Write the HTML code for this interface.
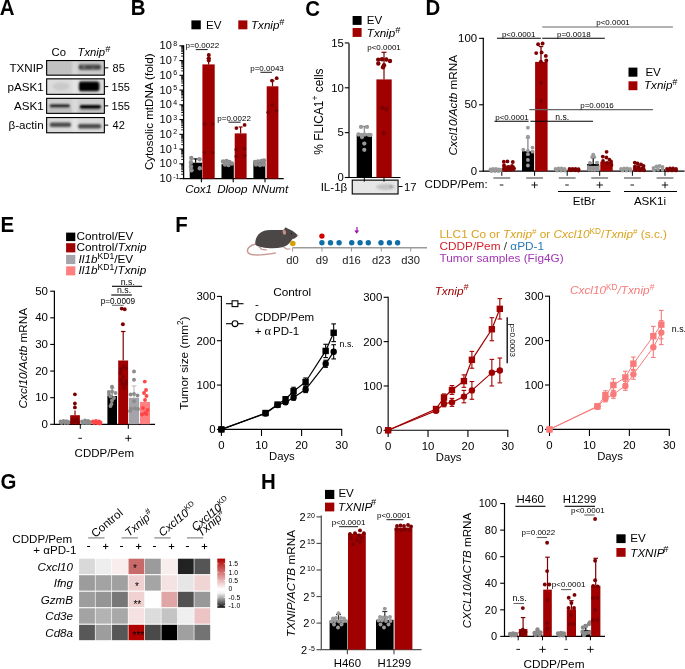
<!DOCTYPE html>
<html><head><meta charset="utf-8"><style>
html,body{margin:0;padding:0;background:#fff;}
svg{display:block;will-change:transform;}
text{font-family:"Liberation Sans", sans-serif;}
</style></head><body>
<svg width="685" height="669" viewBox="0 0 685 669">
<defs>
<filter id="blur1" x="-20%" y="-50%" width="140%" height="200%"><feGaussianBlur stdDeviation="0.9"/></filter>
<filter id="blur2" x="-20%" y="-50%" width="140%" height="200%"><feGaussianBlur stdDeviation="1.2"/></filter>
<linearGradient id="cbar" x1="0" y1="0" x2="0" y2="1">
<stop offset="0" stop-color="#b00000"/><stop offset="0.62" stop-color="#ffffff"/><stop offset="0.7" stop-color="#f4f4f4"/><stop offset="1" stop-color="#111111"/>
</linearGradient>
</defs>
<rect width="685" height="669" fill="#fff"/>
<text x="0" y="0" font-size="22" font-weight="bold" transform="translate(-0.30,15.40) scale(0.93,1)">A</text>
<text x="51.50" y="56.30" font-size="11.3" >Co</text>
<text x="77.50" y="56.30" font-size="11.3" font-style="italic" >Txnip<tspan font-size="9" dy="-4.3">#</tspan></text>
<rect x="46.10" y="60.00" width="58.80" height="15.70" fill="#c9c9c9" />
<text x="43.60" y="72.05" font-size="11.6" text-anchor="end" >TXNIP</text>
<line x1="104.90" y1="67.85" x2="108.30" y2="67.85" stroke="#000" stroke-width="1" />
<text x="112.60" y="71.85" font-size="11.0" >85</text>
<rect x="46.10" y="78.30" width="58.80" height="16.60" fill="#dcdcdc" />
<text x="43.60" y="90.80" font-size="11.6" text-anchor="end" >pASK1</text>
<line x1="104.90" y1="86.60" x2="108.30" y2="86.60" stroke="#000" stroke-width="1" />
<text x="111.60" y="90.60" font-size="11.0" >155</text>
<rect x="46.10" y="97.80" width="58.80" height="16.10" fill="#cfcfcf" />
<text x="43.60" y="110.05" font-size="11.6" text-anchor="end" >ASK1</text>
<line x1="104.90" y1="105.85" x2="108.30" y2="105.85" stroke="#000" stroke-width="1" />
<text x="111.60" y="109.85" font-size="11.0" >155</text>
<rect x="46.10" y="117.00" width="58.80" height="16.30" fill="#dadada" />
<text x="43.60" y="129.35" font-size="11.6" text-anchor="end" >β-actin</text>
<line x1="104.90" y1="125.15" x2="108.30" y2="125.15" stroke="#000" stroke-width="1" />
<text x="112.60" y="129.15" font-size="11.0" >42</text>
<g filter="url(#blur1)">
<rect x="72.50" y="61.00" width="5.00" height="13.70" fill="#ffffff" opacity="0.25"/>
<rect x="72.50" y="79.30" width="5.00" height="14.60" fill="#ffffff" opacity="0.25"/>
<rect x="72.50" y="98.80" width="5.00" height="14.10" fill="#ffffff" opacity="0.25"/>
<rect x="72.50" y="118.00" width="5.00" height="14.30" fill="#ffffff" opacity="0.25"/>
<rect x="47.00" y="61.00" width="25.00" height="14.00" fill="#bdbdbd" opacity="0.6"/>
<rect x="78.40" y="64.60" width="22.60" height="5.20" fill="#474747" rx="2"/>
<circle cx="84.00" cy="66.60" r="1.2" fill="#8a8a8a" />
<circle cx="93.00" cy="67.50" r="1.0" fill="#7a7a7a" />
<ellipse cx="61" cy="86.5" rx="9" ry="4" fill="#cacaca"/>
<rect x="78.60" y="81.40" width="20.80" height="9.80" fill="#000" rx="2.5"/>
<rect x="48.00" y="108.00" width="24.00" height="5.00" fill="#b9b9b9" opacity="0.7"/>
<rect x="78.00" y="109.00" width="25.00" height="4.00" fill="#bcbcbc" opacity="0.7"/>
<rect x="49.60" y="104.40" width="20.40" height="3.40" fill="#151515" rx="1.6"/>
<rect x="79.50" y="105.00" width="21.70" height="4.20" fill="#000" rx="2"/>
<rect x="49.70" y="122.50" width="21.50" height="4.60" fill="#4a4a4a" rx="2"/>
<rect x="77.80" y="124.00" width="23.40" height="4.60" fill="#4a4a4a" rx="2"/>
</g>
<rect x="46.65" y="60.55" width="57.70" height="14.60" fill="none" stroke="#000" stroke-width="1.1" />
<rect x="46.65" y="78.85" width="57.70" height="15.50" fill="none" stroke="#000" stroke-width="1.1" />
<rect x="46.65" y="98.35" width="57.70" height="15.00" fill="none" stroke="#000" stroke-width="1.1" />
<rect x="46.65" y="117.55" width="57.70" height="15.20" fill="none" stroke="#000" stroke-width="1.1" />
<text x="0" y="0" font-size="22" font-weight="bold" transform="translate(130.80,15.40) scale(0.93,1)">B</text>
<rect x="191.40" y="20.40" width="9.40" height="8.90" fill="#000" />
<text x="206.00" y="28.80" font-size="11.6" >EV</text>
<rect x="238.30" y="20.40" width="9.10" height="8.90" fill="#a00000" />
<text x="251.00" y="28.80" font-size="11.6" font-style="italic" >Txnip<tspan font-size="9" dy="-4.3">#</tspan></text>
<line x1="183.60" y1="45.30" x2="183.60" y2="178.60" stroke="#000" stroke-width="1.3" />
<line x1="179.40" y1="178.60" x2="183.60" y2="178.60" stroke="#000" stroke-width="1.1" />
<text x="171.80" y="182.20" font-size="11.0" text-anchor="end" >10</text>
<text x="173.20" y="178.70" font-size="7.0" >-1</text>
<line x1="181.20" y1="174.16" x2="183.60" y2="174.16" stroke="#000" stroke-width="0.9" />
<line x1="181.20" y1="171.56" x2="183.60" y2="171.56" stroke="#000" stroke-width="0.9" />
<line x1="181.20" y1="169.72" x2="183.60" y2="169.72" stroke="#000" stroke-width="0.9" />
<line x1="181.20" y1="168.29" x2="183.60" y2="168.29" stroke="#000" stroke-width="0.9" />
<line x1="181.20" y1="167.12" x2="183.60" y2="167.12" stroke="#000" stroke-width="0.9" />
<line x1="181.20" y1="166.13" x2="183.60" y2="166.13" stroke="#000" stroke-width="0.9" />
<line x1="181.20" y1="165.28" x2="183.60" y2="165.28" stroke="#000" stroke-width="0.9" />
<line x1="181.20" y1="164.52" x2="183.60" y2="164.52" stroke="#000" stroke-width="0.9" />
<line x1="179.40" y1="163.85" x2="183.60" y2="163.85" stroke="#000" stroke-width="1.1" />
<text x="171.80" y="167.45" font-size="11.0" text-anchor="end" >10</text>
<text x="173.20" y="163.95" font-size="7.0" >0</text>
<line x1="181.20" y1="159.41" x2="183.60" y2="159.41" stroke="#000" stroke-width="0.9" />
<line x1="181.20" y1="156.81" x2="183.60" y2="156.81" stroke="#000" stroke-width="0.9" />
<line x1="181.20" y1="154.96" x2="183.60" y2="154.96" stroke="#000" stroke-width="0.9" />
<line x1="181.20" y1="153.53" x2="183.60" y2="153.53" stroke="#000" stroke-width="0.9" />
<line x1="181.20" y1="152.37" x2="183.60" y2="152.37" stroke="#000" stroke-width="0.9" />
<line x1="181.20" y1="151.38" x2="183.60" y2="151.38" stroke="#000" stroke-width="0.9" />
<line x1="181.20" y1="150.52" x2="183.60" y2="150.52" stroke="#000" stroke-width="0.9" />
<line x1="181.20" y1="149.77" x2="183.60" y2="149.77" stroke="#000" stroke-width="0.9" />
<line x1="179.40" y1="149.09" x2="183.60" y2="149.09" stroke="#000" stroke-width="1.1" />
<text x="171.80" y="152.69" font-size="11.0" text-anchor="end" >10</text>
<text x="173.20" y="149.19" font-size="7.0" >1</text>
<line x1="181.20" y1="144.65" x2="183.60" y2="144.65" stroke="#000" stroke-width="0.9" />
<line x1="181.20" y1="142.05" x2="183.60" y2="142.05" stroke="#000" stroke-width="0.9" />
<line x1="181.20" y1="140.21" x2="183.60" y2="140.21" stroke="#000" stroke-width="0.9" />
<line x1="181.20" y1="138.78" x2="183.60" y2="138.78" stroke="#000" stroke-width="0.9" />
<line x1="181.20" y1="137.61" x2="183.60" y2="137.61" stroke="#000" stroke-width="0.9" />
<line x1="181.20" y1="136.62" x2="183.60" y2="136.62" stroke="#000" stroke-width="0.9" />
<line x1="181.20" y1="135.77" x2="183.60" y2="135.77" stroke="#000" stroke-width="0.9" />
<line x1="181.20" y1="135.01" x2="183.60" y2="135.01" stroke="#000" stroke-width="0.9" />
<line x1="179.40" y1="134.34" x2="183.60" y2="134.34" stroke="#000" stroke-width="1.1" />
<text x="171.80" y="137.94" font-size="11.0" text-anchor="end" >10</text>
<text x="173.20" y="134.44" font-size="7.0" >2</text>
<line x1="181.20" y1="129.89" x2="183.60" y2="129.89" stroke="#000" stroke-width="0.9" />
<line x1="181.20" y1="127.30" x2="183.60" y2="127.30" stroke="#000" stroke-width="0.9" />
<line x1="181.20" y1="125.45" x2="183.60" y2="125.45" stroke="#000" stroke-width="0.9" />
<line x1="181.20" y1="124.02" x2="183.60" y2="124.02" stroke="#000" stroke-width="0.9" />
<line x1="181.20" y1="122.85" x2="183.60" y2="122.85" stroke="#000" stroke-width="0.9" />
<line x1="181.20" y1="121.87" x2="183.60" y2="121.87" stroke="#000" stroke-width="0.9" />
<line x1="181.20" y1="121.01" x2="183.60" y2="121.01" stroke="#000" stroke-width="0.9" />
<line x1="181.20" y1="120.26" x2="183.60" y2="120.26" stroke="#000" stroke-width="0.9" />
<line x1="179.40" y1="119.58" x2="183.60" y2="119.58" stroke="#000" stroke-width="1.1" />
<text x="171.80" y="123.18" font-size="11.0" text-anchor="end" >10</text>
<text x="173.20" y="119.68" font-size="7.0" >3</text>
<line x1="181.20" y1="115.14" x2="183.60" y2="115.14" stroke="#000" stroke-width="0.9" />
<line x1="181.20" y1="112.54" x2="183.60" y2="112.54" stroke="#000" stroke-width="0.9" />
<line x1="181.20" y1="110.70" x2="183.60" y2="110.70" stroke="#000" stroke-width="0.9" />
<line x1="181.20" y1="109.27" x2="183.60" y2="109.27" stroke="#000" stroke-width="0.9" />
<line x1="181.20" y1="108.10" x2="183.60" y2="108.10" stroke="#000" stroke-width="0.9" />
<line x1="181.20" y1="107.11" x2="183.60" y2="107.11" stroke="#000" stroke-width="0.9" />
<line x1="181.20" y1="106.25" x2="183.60" y2="106.25" stroke="#000" stroke-width="0.9" />
<line x1="181.20" y1="105.50" x2="183.60" y2="105.50" stroke="#000" stroke-width="0.9" />
<line x1="179.40" y1="104.82" x2="183.60" y2="104.82" stroke="#000" stroke-width="1.1" />
<text x="171.80" y="108.42" font-size="11.0" text-anchor="end" >10</text>
<text x="173.20" y="104.92" font-size="7.0" >4</text>
<line x1="181.20" y1="100.38" x2="183.60" y2="100.38" stroke="#000" stroke-width="0.9" />
<line x1="181.20" y1="97.78" x2="183.60" y2="97.78" stroke="#000" stroke-width="0.9" />
<line x1="181.20" y1="95.94" x2="183.60" y2="95.94" stroke="#000" stroke-width="0.9" />
<line x1="181.20" y1="94.51" x2="183.60" y2="94.51" stroke="#000" stroke-width="0.9" />
<line x1="181.20" y1="93.34" x2="183.60" y2="93.34" stroke="#000" stroke-width="0.9" />
<line x1="181.20" y1="92.35" x2="183.60" y2="92.35" stroke="#000" stroke-width="0.9" />
<line x1="181.20" y1="91.50" x2="183.60" y2="91.50" stroke="#000" stroke-width="0.9" />
<line x1="181.20" y1="90.74" x2="183.60" y2="90.74" stroke="#000" stroke-width="0.9" />
<line x1="179.40" y1="90.07" x2="183.60" y2="90.07" stroke="#000" stroke-width="1.1" />
<text x="171.80" y="93.67" font-size="11.0" text-anchor="end" >10</text>
<text x="173.20" y="90.17" font-size="7.0" >5</text>
<line x1="181.20" y1="85.63" x2="183.60" y2="85.63" stroke="#000" stroke-width="0.9" />
<line x1="181.20" y1="83.03" x2="183.60" y2="83.03" stroke="#000" stroke-width="0.9" />
<line x1="181.20" y1="81.18" x2="183.60" y2="81.18" stroke="#000" stroke-width="0.9" />
<line x1="181.20" y1="79.75" x2="183.60" y2="79.75" stroke="#000" stroke-width="0.9" />
<line x1="181.20" y1="78.59" x2="183.60" y2="78.59" stroke="#000" stroke-width="0.9" />
<line x1="181.20" y1="77.60" x2="183.60" y2="77.60" stroke="#000" stroke-width="0.9" />
<line x1="181.20" y1="76.74" x2="183.60" y2="76.74" stroke="#000" stroke-width="0.9" />
<line x1="181.20" y1="75.99" x2="183.60" y2="75.99" stroke="#000" stroke-width="0.9" />
<line x1="179.40" y1="75.31" x2="183.60" y2="75.31" stroke="#000" stroke-width="1.1" />
<text x="171.80" y="78.91" font-size="11.0" text-anchor="end" >10</text>
<text x="173.20" y="75.41" font-size="7.0" >6</text>
<line x1="181.20" y1="70.87" x2="183.60" y2="70.87" stroke="#000" stroke-width="0.9" />
<line x1="181.20" y1="68.27" x2="183.60" y2="68.27" stroke="#000" stroke-width="0.9" />
<line x1="181.20" y1="66.43" x2="183.60" y2="66.43" stroke="#000" stroke-width="0.9" />
<line x1="181.20" y1="65.00" x2="183.60" y2="65.00" stroke="#000" stroke-width="0.9" />
<line x1="181.20" y1="63.83" x2="183.60" y2="63.83" stroke="#000" stroke-width="0.9" />
<line x1="181.20" y1="62.84" x2="183.60" y2="62.84" stroke="#000" stroke-width="0.9" />
<line x1="181.20" y1="61.99" x2="183.60" y2="61.99" stroke="#000" stroke-width="0.9" />
<line x1="181.20" y1="61.23" x2="183.60" y2="61.23" stroke="#000" stroke-width="0.9" />
<line x1="179.40" y1="60.56" x2="183.60" y2="60.56" stroke="#000" stroke-width="1.1" />
<text x="171.80" y="64.16" font-size="11.0" text-anchor="end" >10</text>
<text x="173.20" y="60.66" font-size="7.0" >7</text>
<line x1="181.20" y1="56.11" x2="183.60" y2="56.11" stroke="#000" stroke-width="0.9" />
<line x1="181.20" y1="53.52" x2="183.60" y2="53.52" stroke="#000" stroke-width="0.9" />
<line x1="181.20" y1="51.67" x2="183.60" y2="51.67" stroke="#000" stroke-width="0.9" />
<line x1="181.20" y1="50.24" x2="183.60" y2="50.24" stroke="#000" stroke-width="0.9" />
<line x1="181.20" y1="49.07" x2="183.60" y2="49.07" stroke="#000" stroke-width="0.9" />
<line x1="181.20" y1="48.09" x2="183.60" y2="48.09" stroke="#000" stroke-width="0.9" />
<line x1="181.20" y1="47.23" x2="183.60" y2="47.23" stroke="#000" stroke-width="0.9" />
<line x1="181.20" y1="46.48" x2="183.60" y2="46.48" stroke="#000" stroke-width="0.9" />
<line x1="179.40" y1="45.80" x2="183.60" y2="45.80" stroke="#000" stroke-width="1.1" />
<text x="171.80" y="49.40" font-size="11.0" text-anchor="end" >10</text>
<text x="173.20" y="45.90" font-size="7.0" >8</text>
<line x1="183.00" y1="178.60" x2="283.70" y2="178.60" stroke="#000" stroke-width="1.3" />
<line x1="201.40" y1="178.60" x2="201.40" y2="182.30" stroke="#000" stroke-width="1.1" />
<line x1="233.20" y1="178.60" x2="233.20" y2="182.30" stroke="#000" stroke-width="1.1" />
<line x1="265.00" y1="178.60" x2="265.00" y2="182.30" stroke="#000" stroke-width="1.1" />
<text x="198.60" y="193.20" font-size="11.5" text-anchor="middle" font-style="italic" >Cox1</text>
<text x="232.30" y="193.20" font-size="11.6" text-anchor="middle" font-style="italic" >Dloop</text>
<text x="270.20" y="193.20" font-size="11.6" text-anchor="middle" font-style="italic" >NNumt</text>
<text x="0" y="0" font-size="11.6" transform="translate(153.40,111.80) rotate(-90)" text-anchor="middle" >Cytosolic mtDNA (fold)</text>
<rect x="189.70" y="162.70" width="12.30" height="15.90" fill="#000" />
<line x1="195.60" y1="162.70" x2="195.60" y2="158.90" stroke="#000" stroke-width="1.2" />
<line x1="193.35" y1="158.90" x2="197.85" y2="158.90" stroke="#000" stroke-width="1.2" />
<circle cx="191.30" cy="157.90" r="2.2" fill="#8e8e8e" />
<circle cx="199.60" cy="159.30" r="2.2" fill="#8e8e8e" />
<circle cx="191.00" cy="162.20" r="2.2" fill="#8e8e8e" />
<circle cx="191.00" cy="166.50" r="2.2" fill="#8e8e8e" />
<circle cx="199.80" cy="168.30" r="2.2" fill="#8e8e8e" />
<circle cx="191.50" cy="170.20" r="2.2" fill="#8e8e8e" />
<rect x="202.40" y="64.40" width="12.30" height="114.20" fill="#a00000" />
<line x1="208.60" y1="64.40" x2="208.60" y2="58.50" stroke="#7d0000" stroke-width="1.2" />
<line x1="206.60" y1="58.50" x2="210.60" y2="58.50" stroke="#7d0000" stroke-width="1.2" />
<circle cx="208.80" cy="54.90" r="2.0" fill="#7d0000" />
<circle cx="208.80" cy="58.20" r="2.0" fill="#7d0000" />
<circle cx="208.80" cy="60.40" r="2.0" fill="#7d0000" />
<circle cx="204.60" cy="123.90" r="1.8" fill="#7d0000" />
<circle cx="212.60" cy="123.90" r="1.8" fill="#7d0000" />
<circle cx="204.60" cy="152.50" r="1.8" fill="#7d0000" />
<circle cx="212.60" cy="152.50" r="1.8" fill="#7d0000" />
<rect x="221.50" y="164.20" width="12.30" height="14.40" fill="#000" />
<circle cx="223.00" cy="161.50" r="2.2" fill="#8e8e8e" />
<circle cx="226.50" cy="161.00" r="2.2" fill="#8e8e8e" />
<circle cx="229.50" cy="162.00" r="2.2" fill="#8e8e8e" />
<circle cx="232.00" cy="163.50" r="2.2" fill="#8e8e8e" />
<circle cx="225.00" cy="164.50" r="2.2" fill="#8e8e8e" />
<circle cx="228.50" cy="165.00" r="2.2" fill="#8e8e8e" />
<rect x="234.70" y="133.40" width="11.90" height="45.20" fill="#a00000" />
<line x1="240.60" y1="133.40" x2="240.60" y2="127.00" stroke="#7d0000" stroke-width="1.2" />
<line x1="238.60" y1="127.00" x2="242.60" y2="127.00" stroke="#7d0000" stroke-width="1.2" />
<circle cx="236.40" cy="128.10" r="1.9" fill="#7d0000" />
<circle cx="244.60" cy="124.90" r="1.9" fill="#7d0000" />
<circle cx="236.40" cy="149.50" r="1.9" fill="#7d0000" />
<circle cx="244.40" cy="148.80" r="1.9" fill="#7d0000" />
<circle cx="236.40" cy="156.40" r="1.9" fill="#7d0000" />
<circle cx="244.40" cy="155.60" r="1.9" fill="#7d0000" />
<rect x="253.40" y="162.10" width="11.90" height="16.50" fill="#000" />
<circle cx="255.00" cy="162.00" r="2.2" fill="#8e8e8e" />
<circle cx="258.00" cy="161.50" r="2.2" fill="#8e8e8e" />
<circle cx="261.50" cy="161.00" r="2.2" fill="#8e8e8e" />
<circle cx="264.00" cy="160.50" r="2.2" fill="#8e8e8e" />
<circle cx="256.00" cy="164.50" r="2.2" fill="#8e8e8e" />
<circle cx="260.00" cy="165.00" r="2.2" fill="#8e8e8e" />
<circle cx="263.50" cy="164.50" r="2.2" fill="#8e8e8e" />
<rect x="266.70" y="86.30" width="11.70" height="92.30" fill="#a00000" />
<line x1="272.50" y1="86.30" x2="272.50" y2="80.80" stroke="#7d0000" stroke-width="1.2" />
<line x1="270.50" y1="80.80" x2="274.50" y2="80.80" stroke="#7d0000" stroke-width="1.2" />
<circle cx="272.00" cy="80.60" r="1.9" fill="#7d0000" />
<circle cx="276.70" cy="78.20" r="1.9" fill="#7d0000" />
<circle cx="268.30" cy="112.20" r="1.9" fill="#7d0000" />
<circle cx="272.20" cy="105.00" r="1.9" fill="#7d0000" />
<circle cx="276.40" cy="110.80" r="1.9" fill="#7d0000" />
<text x="185.50" y="48.10" font-size="8.0" >p=0.0022</text>
<line x1="195.80" y1="49.60" x2="207.70" y2="49.60" stroke="#000" stroke-width="0.9" />
<text x="217.30" y="120.70" font-size="8.0" >p=0.0022</text>
<line x1="228.50" y1="122.20" x2="240.60" y2="122.20" stroke="#000" stroke-width="0.9" />
<text x="250.20" y="70.80" font-size="8.0" >p=0.0043</text>
<line x1="260.40" y1="72.30" x2="272.00" y2="72.30" stroke="#000" stroke-width="0.9" />
<text x="0" y="0" font-size="22" font-weight="bold" transform="translate(305.30,15.60) scale(0.93,1)">C</text>
<rect x="352.60" y="16.00" width="9.00" height="8.90" fill="#000" />
<text x="366.80" y="24.20" font-size="11.6" >EV</text>
<rect x="352.60" y="28.00" width="9.00" height="8.90" fill="#a00000" />
<text x="366.80" y="37.20" font-size="11.6" font-style="italic" >Txnip<tspan font-size="9" dy="-4.3">#</tspan></text>
<line x1="349.00" y1="43.20" x2="349.00" y2="177.50" stroke="#000" stroke-width="1.2" />
<line x1="344.80" y1="177.50" x2="349.00" y2="177.50" stroke="#000" stroke-width="1.1" />
<text x="343.80" y="181.30" font-size="11.3" text-anchor="end" >0</text>
<line x1="344.80" y1="132.65" x2="349.00" y2="132.65" stroke="#000" stroke-width="1.1" />
<text x="343.80" y="136.45" font-size="11.3" text-anchor="end" >5</text>
<line x1="344.80" y1="87.80" x2="349.00" y2="87.80" stroke="#000" stroke-width="1.1" />
<text x="343.80" y="91.60" font-size="11.3" text-anchor="end" >10</text>
<line x1="344.80" y1="42.95" x2="349.00" y2="42.95" stroke="#000" stroke-width="1.1" />
<text x="343.80" y="46.75" font-size="11.3" text-anchor="end" >15</text>
<line x1="348.40" y1="177.50" x2="400.50" y2="177.50" stroke="#000" stroke-width="1.2" />
<text x="0" y="0" font-size="11.9" transform="translate(323.10,111.60) rotate(-90)" text-anchor="middle" >% FLICA1<tspan font-size="8.5" dy="-4.8">+</tspan><tspan dy="4.8"> cells</tspan></text>
<rect x="356.70" y="135.00" width="15.30" height="42.50" fill="#000" />
<line x1="364.30" y1="135.00" x2="364.30" y2="126.40" stroke="#888" stroke-width="1.2" />
<line x1="362.05" y1="126.40" x2="366.55" y2="126.40" stroke="#888" stroke-width="1.2" />
<circle cx="361.00" cy="126.90" r="2.15" fill="#9a9a9a" />
<circle cx="367.00" cy="126.90" r="2.15" fill="#9a9a9a" />
<circle cx="358.50" cy="134.50" r="2.15" fill="#9a9a9a" />
<circle cx="361.80" cy="134.80" r="2.15" fill="#9a9a9a" />
<circle cx="365.00" cy="134.60" r="2.15" fill="#9a9a9a" />
<circle cx="368.50" cy="134.80" r="2.15" fill="#9a9a9a" />
<circle cx="370.50" cy="135.00" r="2.15" fill="#9a9a9a" />
<circle cx="362.00" cy="137.00" r="2.15" fill="#9a9a9a" />
<circle cx="364.30" cy="143.60" r="2.15" fill="#9a9a9a" />
<circle cx="364.30" cy="149.80" r="2.15" fill="#9a9a9a" />
<rect x="376.40" y="79.40" width="15.30" height="98.10" fill="#a00000" />
<line x1="384.00" y1="79.40" x2="384.00" y2="52.30" stroke="#7d0000" stroke-width="1.2" />
<line x1="381.50" y1="52.30" x2="386.50" y2="52.30" stroke="#7d0000" stroke-width="1.2" />
<circle cx="378.20" cy="59.60" r="2.2" fill="#7d0000" />
<circle cx="382.00" cy="59.20" r="2.2" fill="#7d0000" />
<circle cx="386.30" cy="59.50" r="2.2" fill="#7d0000" />
<circle cx="390.00" cy="61.00" r="2.2" fill="#7d0000" />
<circle cx="378.30" cy="63.50" r="2.2" fill="#7d0000" />
<circle cx="384.00" cy="65.30" r="2.2" fill="#7d0000" />
<circle cx="383.00" cy="67.30" r="2.2" fill="#7d0000" />
<circle cx="382.30" cy="107.80" r="2.2" fill="#7d0000" />
<circle cx="386.30" cy="109.00" r="2.2" fill="#7d0000" />
<circle cx="383.80" cy="133.30" r="2.2" fill="#7d0000" />
<text x="367.20" y="50.30" font-size="8.0" >p&lt;0.0001</text>
<rect x="351.70" y="179.60" width="46.90" height="14.90" fill="#e6e6e6" />
<g filter="url(#blur2)">
<ellipse cx="385.5" cy="187" rx="9.5" ry="3" fill="#c2c2c2"/>
<ellipse cx="391" cy="186.5" rx="1.5" ry="1" fill="#777"/>
</g>
<rect x="352.25" y="180.15" width="45.80" height="13.80" fill="none" stroke="#000" stroke-width="1.1" />
<line x1="364.30" y1="177.50" x2="364.30" y2="181.60" stroke="#000" stroke-width="1.0" />
<line x1="384.00" y1="177.50" x2="384.00" y2="181.60" stroke="#000" stroke-width="1.0" />
<text x="347.30" y="191.20" font-size="11.6" text-anchor="end" >IL-1β</text>
<line x1="398.60" y1="186.50" x2="402.50" y2="186.50" stroke="#000" stroke-width="1" />
<text x="404.00" y="191.20" font-size="11.2" >17</text>
<text x="0" y="0" font-size="22" font-weight="bold" transform="translate(425.50,15.40) scale(0.93,1)">D</text>
<line x1="483.30" y1="37.80" x2="483.30" y2="171.20" stroke="#000" stroke-width="1.2" />
<line x1="479.10" y1="171.20" x2="483.30" y2="171.20" stroke="#000" stroke-width="1.1" />
<text x="477.10" y="174.80" font-size="11.4" text-anchor="end" >0</text>
<line x1="479.10" y1="104.77" x2="483.30" y2="104.77" stroke="#000" stroke-width="1.1" />
<text x="477.10" y="108.37" font-size="11.4" text-anchor="end" >50</text>
<line x1="479.10" y1="38.35" x2="483.30" y2="38.35" stroke="#000" stroke-width="1.1" />
<text x="477.10" y="41.95" font-size="11.4" text-anchor="end" >100</text>
<line x1="482.70" y1="171.20" x2="684.60" y2="171.20" stroke="#000" stroke-width="1.2" />
<line x1="501.80" y1="171.20" x2="501.80" y2="175.80" stroke="#000" stroke-width="1.0" />
<line x1="493.40" y1="178.00" x2="510.20" y2="178.00" stroke="#666" stroke-width="1.3" />
<line x1="499.80" y1="185.00" x2="503.40" y2="185.00" stroke="#000" stroke-width="0.9" />
<line x1="534.60" y1="171.20" x2="534.60" y2="175.80" stroke="#000" stroke-width="1.0" />
<line x1="526.20" y1="178.00" x2="543.00" y2="178.00" stroke="#666" stroke-width="1.3" />
<line x1="531.40" y1="185.00" x2="537.80" y2="185.00" stroke="#000" stroke-width="0.9" />
<line x1="534.60" y1="181.80" x2="534.60" y2="188.20" stroke="#000" stroke-width="0.9" />
<line x1="567.20" y1="171.20" x2="567.20" y2="175.80" stroke="#000" stroke-width="1.0" />
<line x1="558.80" y1="178.00" x2="575.60" y2="178.00" stroke="#666" stroke-width="1.3" />
<line x1="565.20" y1="185.00" x2="568.80" y2="185.00" stroke="#000" stroke-width="0.9" />
<line x1="599.70" y1="171.20" x2="599.70" y2="175.80" stroke="#000" stroke-width="1.0" />
<line x1="591.30" y1="178.00" x2="608.10" y2="178.00" stroke="#666" stroke-width="1.3" />
<line x1="596.50" y1="185.00" x2="602.90" y2="185.00" stroke="#000" stroke-width="0.9" />
<line x1="599.70" y1="181.80" x2="599.70" y2="188.20" stroke="#000" stroke-width="0.9" />
<line x1="632.40" y1="171.20" x2="632.40" y2="175.80" stroke="#000" stroke-width="1.0" />
<line x1="624.00" y1="178.00" x2="640.80" y2="178.00" stroke="#666" stroke-width="1.3" />
<line x1="630.40" y1="185.00" x2="634.00" y2="185.00" stroke="#000" stroke-width="0.9" />
<line x1="665.00" y1="171.20" x2="665.00" y2="175.80" stroke="#000" stroke-width="1.0" />
<line x1="656.60" y1="178.00" x2="673.40" y2="178.00" stroke="#666" stroke-width="1.3" />
<line x1="661.80" y1="185.00" x2="668.20" y2="185.00" stroke="#000" stroke-width="0.9" />
<line x1="665.00" y1="181.80" x2="665.00" y2="188.20" stroke="#000" stroke-width="0.9" />
<text x="424.60" y="187.90" font-size="11.6" >CDDP/Pem:</text>
<line x1="558.00" y1="191.50" x2="610.40" y2="191.50" stroke="#000" stroke-width="1.1" />
<line x1="624.00" y1="191.50" x2="677.00" y2="191.50" stroke="#000" stroke-width="1.1" />
<text x="584.00" y="205.00" font-size="11.6" text-anchor="middle" >EtBr</text>
<text x="650.00" y="205.00" font-size="11.6" text-anchor="middle" >ASK1i</text>
<text x="0" y="0" font-size="11.75" transform="translate(457.00,105.20) rotate(-90)" text-anchor="middle" ><tspan font-style="italic">Cxcl10/Actb</tspan> mRNA</text>
<rect x="489.30" y="169.87" width="12.50" height="1.33" fill="#000" />
<circle cx="490.50" cy="169.50" r="1.9" fill="#9a9a9a" />
<circle cx="493.00" cy="169.00" r="1.9" fill="#9a9a9a" />
<circle cx="496.00" cy="169.00" r="1.9" fill="#9a9a9a" />
<circle cx="499.00" cy="169.50" r="1.9" fill="#9a9a9a" />
<circle cx="501.00" cy="170.00" r="1.9" fill="#9a9a9a" />
<circle cx="491.50" cy="171.00" r="1.9" fill="#9a9a9a" />
<circle cx="495.00" cy="171.00" r="1.9" fill="#9a9a9a" />
<circle cx="498.50" cy="171.00" r="1.9" fill="#9a9a9a" />
<rect x="502.40" y="165.62" width="12.40" height="5.58" fill="#a00000" />
<circle cx="503.80" cy="161.70" r="1.9" fill="#7d0000" />
<circle cx="507.40" cy="161.40" r="1.9" fill="#7d0000" />
<circle cx="512.80" cy="162.00" r="1.9" fill="#7d0000" />
<circle cx="504.00" cy="165.20" r="1.9" fill="#7d0000" />
<circle cx="508.40" cy="167.00" r="1.9" fill="#7d0000" />
<circle cx="512.00" cy="166.00" r="1.9" fill="#7d0000" />
<circle cx="514.00" cy="168.40" r="1.9" fill="#7d0000" />
<circle cx="504.00" cy="168.80" r="1.9" fill="#7d0000" />
<circle cx="510.50" cy="169.50" r="1.9" fill="#7d0000" />
<circle cx="506.00" cy="170.00" r="1.9" fill="#7d0000" />
<rect x="522.00" y="151.20" width="12.10" height="20.00" fill="#000" />
<line x1="527.90" y1="151.20" x2="527.90" y2="137.90" stroke="#888" stroke-width="1.3" />
<line x1="525.65" y1="137.90" x2="530.15" y2="137.90" stroke="#888" stroke-width="1.3" />
<circle cx="527.90" cy="127.70" r="1.9" fill="#9a9a9a" />
<circle cx="527.90" cy="136.60" r="1.9" fill="#9a9a9a" />
<circle cx="523.30" cy="149.60" r="1.9" fill="#9a9a9a" />
<circle cx="532.50" cy="147.60" r="1.9" fill="#9a9a9a" />
<circle cx="532.50" cy="151.70" r="1.9" fill="#9a9a9a" />
<circle cx="527.90" cy="150.70" r="1.9" fill="#9a9a9a" />
<circle cx="527.90" cy="154.20" r="1.9" fill="#9a9a9a" />
<circle cx="527.90" cy="159.90" r="1.9" fill="#9a9a9a" />
<circle cx="527.90" cy="165.50" r="1.9" fill="#9a9a9a" />
<rect x="535.10" y="61.90" width="12.50" height="109.30" fill="#a00000" />
<line x1="541.00" y1="61.90" x2="541.00" y2="46.50" stroke="#7d0000" stroke-width="1.3" />
<line x1="538.75" y1="46.50" x2="543.25" y2="46.50" stroke="#7d0000" stroke-width="1.3" />
<circle cx="538.10" cy="44.20" r="1.95" fill="#7d0000" />
<circle cx="542.60" cy="43.50" r="1.95" fill="#7d0000" />
<circle cx="536.20" cy="53.10" r="1.95" fill="#7d0000" />
<circle cx="541.60" cy="52.40" r="1.95" fill="#7d0000" />
<circle cx="545.80" cy="55.90" r="1.95" fill="#7d0000" />
<circle cx="546.30" cy="60.50" r="1.95" fill="#7d0000" />
<circle cx="540.90" cy="61.70" r="1.95" fill="#7d0000" />
<circle cx="541.10" cy="82.70" r="1.95" fill="#7d0000" />
<circle cx="541.10" cy="101.00" r="1.95" fill="#7d0000" />
<rect x="554.70" y="170.00" width="12.50" height="1.20" fill="#000" />
<circle cx="555.50" cy="169.00" r="1.9" fill="#9a9a9a" />
<circle cx="558.50" cy="168.50" r="1.9" fill="#9a9a9a" />
<circle cx="561.50" cy="168.50" r="1.9" fill="#9a9a9a" />
<circle cx="564.50" cy="169.00" r="1.9" fill="#9a9a9a" />
<circle cx="557.00" cy="170.50" r="1.9" fill="#9a9a9a" />
<circle cx="561.00" cy="170.50" r="1.9" fill="#9a9a9a" />
<circle cx="565.00" cy="170.50" r="1.9" fill="#9a9a9a" />
<rect x="567.70" y="169.61" width="12.30" height="1.59" fill="#a00000" />
<circle cx="569.50" cy="169.00" r="1.9" fill="#7d0000" />
<circle cx="572.50" cy="168.80" r="1.9" fill="#7d0000" />
<circle cx="575.50" cy="168.80" r="1.9" fill="#7d0000" />
<circle cx="578.50" cy="169.20" r="1.9" fill="#7d0000" />
<circle cx="571.00" cy="170.30" r="1.9" fill="#7d0000" />
<circle cx="575.00" cy="170.30" r="1.9" fill="#7d0000" />
<circle cx="578.50" cy="170.50" r="1.9" fill="#7d0000" />
<rect x="587.10" y="164.00" width="12.00" height="7.20" fill="#000" />
<circle cx="588.80" cy="166.80" r="2.0" fill="#9a9a9a" />
<circle cx="591.80" cy="167.00" r="2.0" fill="#9a9a9a" />
<circle cx="594.80" cy="167.00" r="2.0" fill="#9a9a9a" />
<circle cx="597.80" cy="166.80" r="2.0" fill="#9a9a9a" />
<circle cx="588.80" cy="169.60" r="2.0" fill="#9a9a9a" />
<circle cx="591.80" cy="169.80" r="2.0" fill="#9a9a9a" />
<circle cx="594.80" cy="169.80" r="2.0" fill="#9a9a9a" />
<circle cx="597.80" cy="169.60" r="2.0" fill="#9a9a9a" />
<circle cx="590.00" cy="163.00" r="2.0" fill="#9a9a9a" />
<circle cx="597.00" cy="162.70" r="2.0" fill="#9a9a9a" />
<line x1="593.20" y1="165.20" x2="593.20" y2="157.70" stroke="#000" stroke-width="1.2" />
<line x1="590.95" y1="157.70" x2="595.45" y2="157.70" stroke="#000" stroke-width="1.2" />
<line x1="588.50" y1="165.20" x2="598.50" y2="165.20" stroke="#000" stroke-width="1.2" />
<circle cx="593.20" cy="154.80" r="2.0" fill="#9a9a9a" />
<circle cx="592.00" cy="157.00" r="1.8" fill="#9a9a9a" />
<circle cx="594.50" cy="157.00" r="1.8" fill="#9a9a9a" />
<rect x="600.30" y="161.70" width="12.40" height="9.50" fill="#a00000" />
<circle cx="606.60" cy="151.80" r="1.9" fill="#7d0000" />
<circle cx="602.80" cy="156.60" r="1.9" fill="#7d0000" />
<circle cx="606.40" cy="157.50" r="1.9" fill="#7d0000" />
<circle cx="609.40" cy="159.70" r="1.9" fill="#7d0000" />
<circle cx="611.00" cy="161.50" r="1.9" fill="#7d0000" />
<circle cx="603.00" cy="161.00" r="1.9" fill="#7d0000" />
<circle cx="607.00" cy="163.00" r="1.9" fill="#7d0000" />
<circle cx="611.50" cy="165.00" r="1.9" fill="#7d0000" />
<rect x="619.90" y="170.00" width="12.50" height="1.20" fill="#000" />
<circle cx="621.00" cy="169.00" r="1.9" fill="#9a9a9a" />
<circle cx="624.00" cy="168.50" r="1.9" fill="#9a9a9a" />
<circle cx="627.00" cy="168.50" r="1.9" fill="#9a9a9a" />
<circle cx="630.00" cy="169.00" r="1.9" fill="#9a9a9a" />
<circle cx="622.50" cy="170.50" r="1.9" fill="#9a9a9a" />
<circle cx="626.50" cy="170.50" r="1.9" fill="#9a9a9a" />
<circle cx="630.50" cy="170.50" r="1.9" fill="#9a9a9a" />
<rect x="632.90" y="167.21" width="12.30" height="3.99" fill="#a00000" />
<circle cx="634.80" cy="162.60" r="1.95" fill="#7d0000" />
<circle cx="637.50" cy="163.50" r="1.95" fill="#7d0000" />
<circle cx="641.00" cy="164.50" r="1.95" fill="#7d0000" />
<circle cx="643.50" cy="166.00" r="1.95" fill="#7d0000" />
<circle cx="635.00" cy="166.50" r="1.95" fill="#7d0000" />
<circle cx="638.50" cy="167.00" r="1.95" fill="#7d0000" />
<circle cx="642.50" cy="168.50" r="1.95" fill="#7d0000" />
<circle cx="636.00" cy="170.00" r="1.95" fill="#7d0000" />
<circle cx="640.00" cy="170.20" r="1.95" fill="#7d0000" />
<circle cx="644.00" cy="170.30" r="1.95" fill="#7d0000" />
<rect x="652.50" y="169.07" width="12.50" height="2.13" fill="#000" />
<circle cx="653.50" cy="168.00" r="1.95" fill="#9a9a9a" />
<circle cx="656.50" cy="166.50" r="1.95" fill="#9a9a9a" />
<circle cx="659.50" cy="166.00" r="1.95" fill="#9a9a9a" />
<circle cx="662.50" cy="167.00" r="1.95" fill="#9a9a9a" />
<circle cx="654.00" cy="170.20" r="1.95" fill="#9a9a9a" />
<circle cx="658.00" cy="169.50" r="1.95" fill="#9a9a9a" />
<circle cx="662.50" cy="169.80" r="1.95" fill="#9a9a9a" />
<rect x="665.50" y="169.74" width="12.30" height="1.46" fill="#a00000" />
<circle cx="667.00" cy="168.80" r="1.9" fill="#7d0000" />
<circle cx="670.00" cy="168.50" r="1.9" fill="#7d0000" />
<circle cx="673.00" cy="168.50" r="1.9" fill="#7d0000" />
<circle cx="676.00" cy="169.00" r="1.9" fill="#7d0000" />
<circle cx="668.00" cy="170.40" r="1.9" fill="#7d0000" />
<circle cx="672.00" cy="170.40" r="1.9" fill="#7d0000" />
<circle cx="676.00" cy="170.40" r="1.9" fill="#7d0000" />
<line x1="542.20" y1="27.00" x2="672.90" y2="27.00" stroke="#666" stroke-width="1.2" />
<text x="613.00" y="25.30" font-size="8.0" text-anchor="middle" >p&lt;0.0001</text>
<line x1="497.00" y1="38.30" x2="540.80" y2="38.30" stroke="#000" stroke-width="1.1" />
<text x="501.90" y="37.20" font-size="8.0" >p&lt;0.0001</text>
<line x1="542.20" y1="38.30" x2="604.80" y2="38.30" stroke="#000" stroke-width="1.1" />
<text x="557.00" y="37.20" font-size="8.0" >p=0.0018</text>
<line x1="529.40" y1="109.70" x2="652.90" y2="109.70" stroke="#666" stroke-width="1.2" />
<text x="597.00" y="108.30" font-size="8.0" text-anchor="middle" >p=0.0016</text>
<line x1="494.50" y1="121.20" x2="528.60" y2="121.20" stroke="#000" stroke-width="1.1" />
<text x="495.20" y="120.10" font-size="8.0" >p&lt;0.0001</text>
<line x1="530.40" y1="121.20" x2="593.00" y2="121.20" stroke="#000" stroke-width="1.1" />
<text x="562.20" y="120.10" font-size="8.6" text-anchor="middle" >n.s.</text>
<rect x="628.50" y="67.60" width="8.90" height="9.10" fill="#000" />
<text x="645.40" y="76.40" font-size="11.6" >EV</text>
<rect x="628.50" y="81.30" width="8.90" height="8.90" fill="#a00000" />
<text x="644.00" y="89.20" font-size="11.6" font-style="italic" >Txnip<tspan font-size="9" dy="-4.3">#</tspan></text>
<text x="0" y="0" font-size="22" font-weight="bold" transform="translate(0.40,232.20) scale(0.93,1)">E</text>
<rect x="66.10" y="232.60" width="9.20" height="8.50" fill="#000" />
<text x="76.60" y="240.10" font-size="11.75" >Control/EV</text>
<rect x="66.10" y="243.20" width="9.20" height="9.20" fill="#a00000" />
<text x="76.60" y="251.40" font-size="11.75" >Control/<tspan font-style="italic">Txnip</tspan></text>
<rect x="66.10" y="254.90" width="9.20" height="9.20" fill="#a4a4aa" />
<text x="78.60" y="263.10" font-size="11.75" ><tspan font-style="italic">Il1b</tspan><tspan font-size="8.6" dy="-4.5">KD1</tspan><tspan dy="4.5">/EV</tspan></text>
<rect x="66.10" y="266.30" width="9.20" height="9.10" fill="#ff8080" />
<text x="78.60" y="274.40" font-size="11.75" ><tspan font-style="italic">Il1b</tspan><tspan font-size="8.6" dy="-4.5">KD1</tspan><tspan dy="4.5">/</tspan><tspan font-style="italic">Txnip</tspan></text>
<line x1="54.40" y1="290.80" x2="54.40" y2="424.30" stroke="#000" stroke-width="1.2" />
<line x1="50.20" y1="424.30" x2="54.40" y2="424.30" stroke="#000" stroke-width="1.1" />
<text x="48.00" y="427.90" font-size="11.5" text-anchor="end" >0</text>
<line x1="50.20" y1="397.68" x2="54.40" y2="397.68" stroke="#000" stroke-width="1.1" />
<text x="48.00" y="401.28" font-size="11.5" text-anchor="end" >10</text>
<line x1="50.20" y1="371.06" x2="54.40" y2="371.06" stroke="#000" stroke-width="1.1" />
<text x="48.00" y="374.66" font-size="11.5" text-anchor="end" >20</text>
<line x1="50.20" y1="344.44" x2="54.40" y2="344.44" stroke="#000" stroke-width="1.1" />
<text x="48.00" y="348.04" font-size="11.5" text-anchor="end" >30</text>
<line x1="50.20" y1="317.82" x2="54.40" y2="317.82" stroke="#000" stroke-width="1.1" />
<text x="48.00" y="321.42" font-size="11.5" text-anchor="end" >40</text>
<line x1="50.20" y1="291.20" x2="54.40" y2="291.20" stroke="#000" stroke-width="1.1" />
<text x="48.00" y="294.80" font-size="11.5" text-anchor="end" >50</text>
<line x1="53.80" y1="424.30" x2="155.00" y2="424.30" stroke="#000" stroke-width="1.2" />
<line x1="80.30" y1="424.30" x2="80.30" y2="428.80" stroke="#000" stroke-width="1.0" />
<line x1="128.30" y1="424.30" x2="128.30" y2="428.80" stroke="#000" stroke-width="1.0" />
<line x1="78.30" y1="438.30" x2="82.00" y2="438.30" stroke="#000" stroke-width="0.9" />
<line x1="125.20" y1="438.30" x2="131.40" y2="438.30" stroke="#000" stroke-width="0.9" />
<line x1="128.30" y1="435.20" x2="128.30" y2="441.40" stroke="#000" stroke-width="0.9" />
<text x="104.30" y="457.20" font-size="11.5" text-anchor="middle" >CDDP/Pem</text>
<text x="0" y="0" font-size="11.75" transform="translate(27.00,358.10) rotate(-90)" text-anchor="middle" ><tspan font-style="italic">Cxcl10/Actb</tspan> mRNA</text>
<rect x="59.50" y="422.44" width="9.90" height="1.86" fill="#000" />
<circle cx="60.50" cy="421.50" r="1.9" fill="#8c8c8c" />
<circle cx="63.50" cy="421.00" r="1.9" fill="#8c8c8c" />
<circle cx="66.50" cy="421.20" r="1.9" fill="#8c8c8c" />
<circle cx="68.50" cy="422.00" r="1.9" fill="#8c8c8c" />
<circle cx="61.50" cy="423.00" r="1.9" fill="#8c8c8c" />
<circle cx="65.00" cy="423.00" r="1.9" fill="#8c8c8c" />
<circle cx="68.00" cy="423.00" r="1.9" fill="#8c8c8c" />
<rect x="70.20" y="415.20" width="9.70" height="9.10" fill="#a00000" />
<line x1="75.00" y1="415.20" x2="75.00" y2="410.50" stroke="#7d0000" stroke-width="1.2" />
<circle cx="74.90" cy="394.30" r="1.9" fill="#7d0000" />
<circle cx="74.90" cy="403.50" r="1.9" fill="#7d0000" />
<circle cx="74.90" cy="407.40" r="1.9" fill="#7d0000" />
<circle cx="72.50" cy="419.50" r="1.9" fill="#7d0000" />
<circle cx="77.00" cy="419.50" r="1.9" fill="#7d0000" />
<circle cx="72.00" cy="422.50" r="1.9" fill="#7d0000" />
<circle cx="75.00" cy="421.00" r="1.9" fill="#7d0000" />
<circle cx="78.00" cy="422.50" r="1.9" fill="#7d0000" />
<rect x="80.90" y="422.70" width="10.10" height="1.60" fill="#a4a4aa" />
<circle cx="82.00" cy="421.50" r="1.9" fill="#8c8c8c" />
<circle cx="85.00" cy="420.50" r="1.9" fill="#8c8c8c" />
<circle cx="88.00" cy="421.00" r="1.9" fill="#8c8c8c" />
<circle cx="90.00" cy="422.00" r="1.9" fill="#8c8c8c" />
<circle cx="83.00" cy="423.00" r="1.9" fill="#8c8c8c" />
<circle cx="86.50" cy="423.00" r="1.9" fill="#8c8c8c" />
<circle cx="89.50" cy="423.00" r="1.9" fill="#8c8c8c" />
<rect x="91.60" y="422.17" width="10.00" height="2.13" fill="#ff8080" />
<circle cx="93.00" cy="421.50" r="1.9" fill="#ff4545" />
<circle cx="96.00" cy="421.00" r="1.9" fill="#ff4545" />
<circle cx="99.00" cy="421.50" r="1.9" fill="#ff4545" />
<circle cx="100.50" cy="422.50" r="1.9" fill="#ff4545" />
<circle cx="94.00" cy="423.00" r="1.9" fill="#ff4545" />
<circle cx="97.50" cy="423.00" r="1.9" fill="#ff4545" />
<circle cx="100.00" cy="423.50" r="1.9" fill="#ff4545" />
<rect x="107.40" y="396.00" width="9.60" height="28.30" fill="#000" />
<line x1="112.20" y1="396.00" x2="112.20" y2="388.00" stroke="#8c8c8c" stroke-width="1.2" />
<line x1="110.00" y1="388.00" x2="114.40" y2="388.00" stroke="#8c8c8c" stroke-width="1.2" />
<circle cx="112.00" cy="386.60" r="1.95" fill="#8c8c8c" />
<circle cx="108.80" cy="392.00" r="1.95" fill="#8c8c8c" />
<circle cx="112.00" cy="391.50" r="1.95" fill="#8c8c8c" />
<circle cx="115.50" cy="393.00" r="1.95" fill="#8c8c8c" />
<circle cx="110.50" cy="396.50" r="1.95" fill="#8c8c8c" />
<circle cx="114.00" cy="398.00" r="1.95" fill="#8c8c8c" />
<circle cx="112.00" cy="400.50" r="1.95" fill="#8c8c8c" />
<circle cx="111.50" cy="404.00" r="1.95" fill="#8c8c8c" />
<circle cx="110.50" cy="406.00" r="1.95" fill="#8c8c8c" />
<circle cx="109.00" cy="394.50" r="1.95" fill="#8c8c8c" />
<rect x="118.20" y="360.50" width="9.90" height="63.80" fill="#a00000" />
<line x1="123.20" y1="360.50" x2="123.20" y2="331.50" stroke="#7d0000" stroke-width="1.2" />
<line x1="120.95" y1="331.50" x2="125.45" y2="331.50" stroke="#7d0000" stroke-width="1.2" />
<circle cx="121.70" cy="308.60" r="1.95" fill="#7d0000" />
<circle cx="124.70" cy="309.20" r="1.95" fill="#7d0000" />
<circle cx="122.90" cy="324.20" r="1.95" fill="#7d0000" />
<circle cx="123.50" cy="366.50" r="1.95" fill="#7d0000" />
<circle cx="120.80" cy="369.50" r="1.95" fill="#7d0000" />
<circle cx="125.80" cy="368.50" r="1.95" fill="#7d0000" />
<circle cx="120.50" cy="373.00" r="1.95" fill="#7d0000" />
<circle cx="123.50" cy="376.50" r="1.95" fill="#7d0000" />
<circle cx="121.00" cy="380.00" r="1.95" fill="#7d0000" />
<circle cx="126.00" cy="381.50" r="1.95" fill="#7d0000" />
<circle cx="122.00" cy="384.00" r="1.95" fill="#7d0000" />
<circle cx="125.50" cy="384.00" r="1.95" fill="#7d0000" />
<circle cx="124.00" cy="388.00" r="1.95" fill="#7d0000" />
<rect x="128.90" y="397.80" width="10.20" height="26.50" fill="#a4a4aa" />
<line x1="134.00" y1="397.80" x2="134.00" y2="385.90" stroke="#c0c0c0" stroke-width="1.2" />
<line x1="131.75" y1="385.90" x2="136.25" y2="385.90" stroke="#c0c0c0" stroke-width="1.2" />
<circle cx="134.00" cy="371.50" r="1.95" fill="#8c8c8c" />
<circle cx="134.00" cy="379.70" r="1.95" fill="#8c8c8c" />
<circle cx="130.50" cy="394.50" r="1.95" fill="#8c8c8c" />
<circle cx="134.00" cy="394.00" r="1.95" fill="#8c8c8c" />
<circle cx="137.50" cy="395.50" r="1.95" fill="#8c8c8c" />
<circle cx="134.00" cy="401.30" r="1.95" fill="#8c8c8c" />
<circle cx="131.00" cy="408.80" r="1.95" fill="#8c8c8c" />
<circle cx="135.00" cy="408.50" r="1.95" fill="#8c8c8c" />
<circle cx="138.00" cy="409.00" r="1.95" fill="#8c8c8c" />
<circle cx="130.00" cy="411.00" r="1.95" fill="#8c8c8c" />
<rect x="140.00" y="402.00" width="10.00" height="22.30" fill="#ff8080" />
<circle cx="144.80" cy="381.60" r="1.95" fill="#ff4545" />
<circle cx="146.00" cy="390.00" r="1.95" fill="#ff4545" />
<circle cx="144.00" cy="393.00" r="1.95" fill="#ff4545" />
<circle cx="146.50" cy="396.00" r="1.95" fill="#ff4545" />
<circle cx="145.00" cy="400.00" r="1.95" fill="#ff4545" />
<circle cx="143.00" cy="408.00" r="1.95" fill="#ff4545" />
<circle cx="147.50" cy="410.00" r="1.95" fill="#ff4545" />
<circle cx="145.00" cy="413.00" r="1.95" fill="#ff4545" />
<circle cx="142.00" cy="414.50" r="1.95" fill="#ff4545" />
<circle cx="146.50" cy="414.00" r="1.95" fill="#ff4545" />
<line x1="112.00" y1="286.30" x2="142.10" y2="286.30" stroke="#000" stroke-width="1.1" />
<text x="127.80" y="284.80" font-size="8.8" text-anchor="middle" >n.s.</text>
<line x1="111.30" y1="295.00" x2="131.90" y2="295.00" stroke="#000" stroke-width="1.1" />
<text x="124.00" y="293.00" font-size="8.8" text-anchor="middle" >n.s.</text>
<text x="100.70" y="303.80" font-size="8.2" >p=0.0009</text>
<line x1="112.00" y1="305.30" x2="123.70" y2="305.30" stroke="#666" stroke-width="1.0" />
<text x="0" y="0" font-size="22" font-weight="bold" transform="translate(175.20,232.20) scale(0.93,1)">F</text>
<path d="M256.3 244 C249.5 245, 245.8 249.2, 248.2 252.8 C250.5 256, 262 255.3, 275.8 253" fill="none" stroke="#c99a97" stroke-width="1.5" />
<path d="M255.2 243.5 C255.3 236.5, 259.8 231.2, 266.8 230.3 C273 229.6, 279 230.3, 283.4 229.9 L285.6 227.2 L287.6 228.4 C291.2 229.8, 295.3 232.2, 297.9 235.4 C296.3 237.6, 294.2 238.6, 292.2 239.2 C290.3 242.5, 287.2 246.3, 282.2 247.2 C276 248.6, 268 248.3, 262 247.2 C258 246.6, 255.4 245.6, 255.2 243.5 Z" fill="#4b4747" />
<path d="M258.6 246.4 L261.8 249.3 L266.8 249.8" fill="none" stroke="#c99a97" stroke-width="1.2" />
<path d="M283.4 247 L286.8 249.1 L290.6 249" fill="none" stroke="#c99a97" stroke-width="1.2" />
<ellipse cx="284.3" cy="232.2" rx="1.7" ry="2.6" fill="#c48e8c" transform="rotate(-15 284.3 232.2)"/>
<circle cx="291.40" cy="233.60" r="0.65" fill="#111" />
<circle cx="297.60" cy="235.40" r="0.8" fill="#d29a98" />
<line x1="292.60" y1="247.70" x2="427.00" y2="247.70" stroke="#9a9a9a" stroke-width="1.4" />
<line x1="292.60" y1="247.70" x2="292.60" y2="251.60" stroke="#9a9a9a" stroke-width="1.0" />
<text x="292.60" y="263.80" font-size="11.2" text-anchor="middle" fill="#222" >d0</text>
<line x1="322.00" y1="247.70" x2="322.00" y2="251.60" stroke="#9a9a9a" stroke-width="1.0" />
<text x="322.00" y="263.80" font-size="11.2" text-anchor="middle" fill="#222" >d9</text>
<line x1="351.50" y1="247.70" x2="351.50" y2="251.60" stroke="#9a9a9a" stroke-width="1.0" />
<text x="351.50" y="263.80" font-size="11.2" text-anchor="middle" fill="#222" >d16</text>
<line x1="381.30" y1="247.70" x2="381.30" y2="251.60" stroke="#9a9a9a" stroke-width="1.0" />
<text x="381.30" y="263.80" font-size="11.2" text-anchor="middle" fill="#222" >d23</text>
<line x1="410.70" y1="247.70" x2="410.70" y2="251.60" stroke="#9a9a9a" stroke-width="1.0" />
<text x="410.70" y="263.80" font-size="11.2" text-anchor="middle" fill="#222" >d30</text>
<circle cx="292.80" cy="243.50" r="2.8" fill="#d4a000" />
<circle cx="321.90" cy="236.10" r="2.7" fill="#d40000" />
<circle cx="321.90" cy="242.80" r="2.7" fill="#0f6ea8" />
<circle cx="330.50" cy="242.80" r="2.7" fill="#0f6ea8" />
<circle cx="339.10" cy="242.80" r="2.7" fill="#0f6ea8" />
<circle cx="351.70" cy="242.80" r="2.7" fill="#0f6ea8" />
<circle cx="360.10" cy="242.80" r="2.7" fill="#0f6ea8" />
<circle cx="368.30" cy="242.80" r="2.7" fill="#0f6ea8" />
<circle cx="381.00" cy="242.80" r="2.7" fill="#0f6ea8" />
<circle cx="389.40" cy="242.80" r="2.7" fill="#0f6ea8" />
<circle cx="397.60" cy="242.80" r="2.7" fill="#0f6ea8" />
<rect x="356.00" y="227.00" width="2.00" height="4.00" fill="#b040c0" opacity="0.75"/>
<path d="M354.3 230.6 L359.1 230.6 L356.7 233.8 Z" fill="#a010a8" />
<text x="439.50" y="238.40" font-size="11.8" fill="#d9a21c" >LLC1 Co or <tspan font-style="italic">Txnip</tspan><tspan font-size="8" dy="-4">#</tspan><tspan dy="4"> or </tspan><tspan font-style="italic">Cxcl10</tspan><tspan font-size="8.2" dy="-4">KD</tspan><tspan dy="4">/</tspan><tspan font-style="italic">Txnip</tspan><tspan font-size="8" dy="-4">#</tspan><tspan dy="4"> (s.c.)</tspan></text>
<text x="439.50" y="250.20" font-size="11.8" ><tspan fill="#d21f2a">CDDP/Pem</tspan><tspan fill="#333"> / </tspan><tspan fill="#2a7ab8">αPD-1</tspan></text>
<text x="439.50" y="261.90" font-size="11.8" fill="#a235b5" >Tumor samples (Fig4G)</text>
<line x1="221.40" y1="295.90" x2="221.40" y2="429.40" stroke="#000" stroke-width="1.1" />
<line x1="220.90" y1="429.40" x2="342.20" y2="429.40" stroke="#000" stroke-width="1.1" />
<line x1="216.90" y1="429.40" x2="221.40" y2="429.40" stroke="#000" stroke-width="1.1" />
<text x="215.50" y="433.40" font-size="11.4" text-anchor="end" >0</text>
<line x1="216.90" y1="385.07" x2="221.40" y2="385.07" stroke="#000" stroke-width="1.1" />
<text x="215.50" y="389.07" font-size="11.4" text-anchor="end" >100</text>
<line x1="216.90" y1="340.73" x2="221.40" y2="340.73" stroke="#000" stroke-width="1.1" />
<text x="215.50" y="344.73" font-size="11.4" text-anchor="end" >200</text>
<line x1="216.90" y1="296.40" x2="221.40" y2="296.40" stroke="#000" stroke-width="1.1" />
<text x="215.50" y="300.40" font-size="11.4" text-anchor="end" >300</text>
<line x1="221.40" y1="429.40" x2="221.40" y2="436.00" stroke="#000" stroke-width="1.1" />
<text x="221.40" y="448.90" font-size="11.4" text-anchor="middle" >0</text>
<line x1="261.50" y1="429.40" x2="261.50" y2="436.00" stroke="#000" stroke-width="1.1" />
<text x="261.50" y="448.90" font-size="11.4" text-anchor="middle" >10</text>
<line x1="301.60" y1="429.40" x2="301.60" y2="436.00" stroke="#000" stroke-width="1.1" />
<text x="301.60" y="448.90" font-size="11.4" text-anchor="middle" >20</text>
<line x1="341.70" y1="429.40" x2="341.70" y2="436.00" stroke="#000" stroke-width="1.1" />
<text x="341.70" y="448.90" font-size="11.4" text-anchor="middle" >30</text>
<text x="281.90" y="460.20" font-size="11.3" text-anchor="middle" >Days</text>
<polyline points="221.40,429.40 265.51,413.00 277.54,404.57 285.56,399.25 293.58,391.27 305.61,381.96 325.66,350.93 333.68,332.75" fill="none" stroke="#000" stroke-width="1.2"/>
<line x1="265.51" y1="414.77" x2="265.51" y2="411.22" stroke="#000" stroke-width="1.1" />
<line x1="263.21" y1="411.22" x2="267.81" y2="411.22" stroke="#000" stroke-width="1.1" />
<line x1="263.21" y1="414.77" x2="267.81" y2="414.77" stroke="#000" stroke-width="1.1" />
<line x1="277.54" y1="406.35" x2="277.54" y2="402.80" stroke="#000" stroke-width="1.1" />
<line x1="275.24" y1="402.80" x2="279.84" y2="402.80" stroke="#000" stroke-width="1.1" />
<line x1="275.24" y1="406.35" x2="279.84" y2="406.35" stroke="#000" stroke-width="1.1" />
<line x1="285.56" y1="401.47" x2="285.56" y2="397.04" stroke="#000" stroke-width="1.1" />
<line x1="283.26" y1="397.04" x2="287.86" y2="397.04" stroke="#000" stroke-width="1.1" />
<line x1="283.26" y1="401.47" x2="287.86" y2="401.47" stroke="#000" stroke-width="1.1" />
<line x1="293.58" y1="395.26" x2="293.58" y2="387.28" stroke="#000" stroke-width="1.1" />
<line x1="291.28" y1="387.28" x2="295.88" y2="387.28" stroke="#000" stroke-width="1.1" />
<line x1="291.28" y1="395.26" x2="295.88" y2="395.26" stroke="#000" stroke-width="1.1" />
<line x1="305.61" y1="385.95" x2="305.61" y2="377.97" stroke="#000" stroke-width="1.1" />
<line x1="303.31" y1="377.97" x2="307.91" y2="377.97" stroke="#000" stroke-width="1.1" />
<line x1="303.31" y1="385.95" x2="307.91" y2="385.95" stroke="#000" stroke-width="1.1" />
<line x1="325.66" y1="357.58" x2="325.66" y2="344.28" stroke="#000" stroke-width="1.1" />
<line x1="323.36" y1="344.28" x2="327.96" y2="344.28" stroke="#000" stroke-width="1.1" />
<line x1="323.36" y1="357.58" x2="327.96" y2="357.58" stroke="#000" stroke-width="1.1" />
<line x1="333.68" y1="341.62" x2="333.68" y2="323.89" stroke="#000" stroke-width="1.1" />
<line x1="331.38" y1="323.89" x2="335.98" y2="323.89" stroke="#000" stroke-width="1.1" />
<line x1="331.38" y1="341.62" x2="335.98" y2="341.62" stroke="#000" stroke-width="1.1" />
<polyline points="221.40,429.40 265.51,413.44 277.54,405.02 285.56,402.36 293.58,397.48 305.61,389.50 325.66,363.79 333.68,351.82" fill="none" stroke="#000" stroke-width="1.2"/>
<line x1="265.51" y1="414.77" x2="265.51" y2="412.11" stroke="#000" stroke-width="1.1" />
<line x1="263.21" y1="412.11" x2="267.81" y2="412.11" stroke="#000" stroke-width="1.1" />
<line x1="263.21" y1="414.77" x2="267.81" y2="414.77" stroke="#000" stroke-width="1.1" />
<line x1="277.54" y1="406.79" x2="277.54" y2="403.24" stroke="#000" stroke-width="1.1" />
<line x1="275.24" y1="403.24" x2="279.84" y2="403.24" stroke="#000" stroke-width="1.1" />
<line x1="275.24" y1="406.79" x2="279.84" y2="406.79" stroke="#000" stroke-width="1.1" />
<line x1="285.56" y1="404.13" x2="285.56" y2="400.58" stroke="#000" stroke-width="1.1" />
<line x1="283.26" y1="400.58" x2="287.86" y2="400.58" stroke="#000" stroke-width="1.1" />
<line x1="283.26" y1="404.13" x2="287.86" y2="404.13" stroke="#000" stroke-width="1.1" />
<line x1="293.58" y1="400.14" x2="293.58" y2="394.82" stroke="#000" stroke-width="1.1" />
<line x1="291.28" y1="394.82" x2="295.88" y2="394.82" stroke="#000" stroke-width="1.1" />
<line x1="291.28" y1="400.14" x2="295.88" y2="400.14" stroke="#000" stroke-width="1.1" />
<line x1="305.61" y1="392.60" x2="305.61" y2="386.40" stroke="#000" stroke-width="1.1" />
<line x1="303.31" y1="386.40" x2="307.91" y2="386.40" stroke="#000" stroke-width="1.1" />
<line x1="303.31" y1="392.60" x2="307.91" y2="392.60" stroke="#000" stroke-width="1.1" />
<line x1="325.66" y1="367.33" x2="325.66" y2="360.24" stroke="#000" stroke-width="1.1" />
<line x1="323.36" y1="360.24" x2="327.96" y2="360.24" stroke="#000" stroke-width="1.1" />
<line x1="323.36" y1="367.33" x2="327.96" y2="367.33" stroke="#000" stroke-width="1.1" />
<line x1="333.68" y1="358.91" x2="333.68" y2="344.72" stroke="#000" stroke-width="1.1" />
<line x1="331.38" y1="344.72" x2="335.98" y2="344.72" stroke="#000" stroke-width="1.1" />
<line x1="331.38" y1="358.91" x2="335.98" y2="358.91" stroke="#000" stroke-width="1.1" />
<rect x="218.20" y="426.20" width="6.40" height="6.40" fill="#000" />
<rect x="262.31" y="409.80" width="6.40" height="6.40" fill="#000" />
<rect x="274.34" y="401.37" width="6.40" height="6.40" fill="#000" />
<rect x="282.36" y="396.05" width="6.40" height="6.40" fill="#000" />
<rect x="290.38" y="388.07" width="6.40" height="6.40" fill="#000" />
<rect x="302.41" y="378.76" width="6.40" height="6.40" fill="#000" />
<rect x="322.46" y="347.73" width="6.40" height="6.40" fill="#000" />
<rect x="330.48" y="329.55" width="6.40" height="6.40" fill="#000" />
<circle cx="221.40" cy="429.40" r="3.2" fill="#000" />
<circle cx="265.51" cy="413.44" r="3.2" fill="#000" />
<circle cx="277.54" cy="405.02" r="3.2" fill="#000" />
<circle cx="285.56" cy="402.36" r="3.2" fill="#000" />
<circle cx="293.58" cy="397.48" r="3.2" fill="#000" />
<circle cx="305.61" cy="389.50" r="3.2" fill="#000" />
<circle cx="325.66" cy="363.79" r="3.2" fill="#000" />
<circle cx="333.68" cy="351.82" r="3.2" fill="#000" />
<line x1="388.15" y1="296.80" x2="388.15" y2="430.30" stroke="#000" stroke-width="1.1" />
<line x1="387.65" y1="430.30" x2="508.30" y2="430.30" stroke="#000" stroke-width="1.1" />
<line x1="383.65" y1="430.30" x2="388.15" y2="430.30" stroke="#000" stroke-width="1.1" />
<text x="382.25" y="434.30" font-size="11.4" text-anchor="end" >0</text>
<line x1="383.65" y1="385.97" x2="388.15" y2="385.97" stroke="#000" stroke-width="1.1" />
<text x="382.25" y="389.97" font-size="11.4" text-anchor="end" >100</text>
<line x1="383.65" y1="341.63" x2="388.15" y2="341.63" stroke="#000" stroke-width="1.1" />
<text x="382.25" y="345.63" font-size="11.4" text-anchor="end" >200</text>
<line x1="383.65" y1="297.30" x2="388.15" y2="297.30" stroke="#000" stroke-width="1.1" />
<text x="382.25" y="301.30" font-size="11.4" text-anchor="end" >300</text>
<line x1="388.15" y1="430.30" x2="388.15" y2="436.90" stroke="#000" stroke-width="1.1" />
<text x="388.15" y="449.80" font-size="11.4" text-anchor="middle" >0</text>
<line x1="428.03" y1="430.30" x2="428.03" y2="436.90" stroke="#000" stroke-width="1.1" />
<text x="428.03" y="449.80" font-size="11.4" text-anchor="middle" >10</text>
<line x1="467.92" y1="430.30" x2="467.92" y2="436.90" stroke="#000" stroke-width="1.1" />
<text x="467.92" y="449.80" font-size="11.4" text-anchor="middle" >20</text>
<line x1="507.80" y1="430.30" x2="507.80" y2="436.90" stroke="#000" stroke-width="1.1" />
<text x="507.80" y="449.80" font-size="11.4" text-anchor="middle" >30</text>
<text x="448.65" y="461.10" font-size="11.3" text-anchor="middle" >Days</text>
<polyline points="388.15,430.30 436.01,409.02 443.99,397.49 451.96,389.96 463.93,381.09 471.90,359.81 491.85,329.22 499.82,308.83" fill="none" stroke="#a00000" stroke-width="1.2"/>
<line x1="436.01" y1="411.24" x2="436.01" y2="406.80" stroke="#a00000" stroke-width="1.1" />
<line x1="433.71" y1="406.80" x2="438.31" y2="406.80" stroke="#a00000" stroke-width="1.1" />
<line x1="433.71" y1="411.24" x2="438.31" y2="411.24" stroke="#a00000" stroke-width="1.1" />
<line x1="443.99" y1="401.04" x2="443.99" y2="393.95" stroke="#a00000" stroke-width="1.1" />
<line x1="441.69" y1="393.95" x2="446.29" y2="393.95" stroke="#a00000" stroke-width="1.1" />
<line x1="441.69" y1="401.04" x2="446.29" y2="401.04" stroke="#a00000" stroke-width="1.1" />
<line x1="451.96" y1="394.39" x2="451.96" y2="385.52" stroke="#a00000" stroke-width="1.1" />
<line x1="449.66" y1="385.52" x2="454.26" y2="385.52" stroke="#a00000" stroke-width="1.1" />
<line x1="449.66" y1="394.39" x2="454.26" y2="394.39" stroke="#a00000" stroke-width="1.1" />
<line x1="463.93" y1="387.30" x2="463.93" y2="374.88" stroke="#a00000" stroke-width="1.1" />
<line x1="461.63" y1="374.88" x2="466.23" y2="374.88" stroke="#a00000" stroke-width="1.1" />
<line x1="461.63" y1="387.30" x2="466.23" y2="387.30" stroke="#a00000" stroke-width="1.1" />
<line x1="471.90" y1="368.23" x2="471.90" y2="351.39" stroke="#a00000" stroke-width="1.1" />
<line x1="469.60" y1="351.39" x2="474.20" y2="351.39" stroke="#a00000" stroke-width="1.1" />
<line x1="469.60" y1="368.23" x2="474.20" y2="368.23" stroke="#a00000" stroke-width="1.1" />
<line x1="491.85" y1="340.75" x2="491.85" y2="317.69" stroke="#a00000" stroke-width="1.1" />
<line x1="489.55" y1="317.69" x2="494.15" y2="317.69" stroke="#a00000" stroke-width="1.1" />
<line x1="489.55" y1="340.75" x2="494.15" y2="340.75" stroke="#a00000" stroke-width="1.1" />
<line x1="499.82" y1="319.02" x2="499.82" y2="298.63" stroke="#a00000" stroke-width="1.1" />
<line x1="497.52" y1="298.63" x2="502.12" y2="298.63" stroke="#a00000" stroke-width="1.1" />
<line x1="497.52" y1="319.02" x2="502.12" y2="319.02" stroke="#a00000" stroke-width="1.1" />
<polyline points="388.15,430.30 436.01,410.79 443.99,403.70 451.96,402.37 463.93,396.61 471.90,390.40 491.85,372.67 499.82,370.45" fill="none" stroke="#a00000" stroke-width="1.2"/>
<line x1="436.01" y1="412.57" x2="436.01" y2="409.02" stroke="#a00000" stroke-width="1.1" />
<line x1="433.71" y1="409.02" x2="438.31" y2="409.02" stroke="#a00000" stroke-width="1.1" />
<line x1="433.71" y1="412.57" x2="438.31" y2="412.57" stroke="#a00000" stroke-width="1.1" />
<line x1="443.99" y1="406.80" x2="443.99" y2="400.60" stroke="#a00000" stroke-width="1.1" />
<line x1="441.69" y1="400.60" x2="446.29" y2="400.60" stroke="#a00000" stroke-width="1.1" />
<line x1="441.69" y1="406.80" x2="446.29" y2="406.80" stroke="#a00000" stroke-width="1.1" />
<line x1="451.96" y1="406.36" x2="451.96" y2="398.38" stroke="#a00000" stroke-width="1.1" />
<line x1="449.66" y1="398.38" x2="454.26" y2="398.38" stroke="#a00000" stroke-width="1.1" />
<line x1="449.66" y1="406.36" x2="454.26" y2="406.36" stroke="#a00000" stroke-width="1.1" />
<line x1="463.93" y1="402.81" x2="463.93" y2="390.40" stroke="#a00000" stroke-width="1.1" />
<line x1="461.63" y1="390.40" x2="466.23" y2="390.40" stroke="#a00000" stroke-width="1.1" />
<line x1="461.63" y1="402.81" x2="466.23" y2="402.81" stroke="#a00000" stroke-width="1.1" />
<line x1="471.90" y1="399.27" x2="471.90" y2="381.53" stroke="#a00000" stroke-width="1.1" />
<line x1="469.60" y1="381.53" x2="474.20" y2="381.53" stroke="#a00000" stroke-width="1.1" />
<line x1="469.60" y1="399.27" x2="474.20" y2="399.27" stroke="#a00000" stroke-width="1.1" />
<line x1="491.85" y1="385.97" x2="491.85" y2="359.37" stroke="#a00000" stroke-width="1.1" />
<line x1="489.55" y1="359.37" x2="494.15" y2="359.37" stroke="#a00000" stroke-width="1.1" />
<line x1="489.55" y1="385.97" x2="494.15" y2="385.97" stroke="#a00000" stroke-width="1.1" />
<line x1="499.82" y1="382.86" x2="499.82" y2="358.04" stroke="#a00000" stroke-width="1.1" />
<line x1="497.52" y1="358.04" x2="502.12" y2="358.04" stroke="#a00000" stroke-width="1.1" />
<line x1="497.52" y1="382.86" x2="502.12" y2="382.86" stroke="#a00000" stroke-width="1.1" />
<rect x="384.95" y="427.10" width="6.40" height="6.40" fill="#a00000" />
<rect x="432.81" y="405.82" width="6.40" height="6.40" fill="#a00000" />
<rect x="440.79" y="394.29" width="6.40" height="6.40" fill="#a00000" />
<rect x="448.76" y="386.76" width="6.40" height="6.40" fill="#a00000" />
<rect x="460.73" y="377.89" width="6.40" height="6.40" fill="#a00000" />
<rect x="468.70" y="356.61" width="6.40" height="6.40" fill="#a00000" />
<rect x="488.65" y="326.02" width="6.40" height="6.40" fill="#a00000" />
<rect x="496.62" y="305.63" width="6.40" height="6.40" fill="#a00000" />
<circle cx="388.15" cy="430.30" r="3.2" fill="#a00000" />
<circle cx="436.01" cy="410.79" r="3.2" fill="#a00000" />
<circle cx="443.99" cy="403.70" r="3.2" fill="#a00000" />
<circle cx="451.96" cy="402.37" r="3.2" fill="#a00000" />
<circle cx="463.93" cy="396.61" r="3.2" fill="#a00000" />
<circle cx="471.90" cy="390.40" r="3.2" fill="#a00000" />
<circle cx="491.85" cy="372.67" r="3.2" fill="#a00000" />
<circle cx="499.82" cy="370.45" r="3.2" fill="#a00000" />
<line x1="549.50" y1="295.70" x2="549.50" y2="429.40" stroke="#000" stroke-width="1.1" />
<line x1="549.00" y1="429.40" x2="669.80" y2="429.40" stroke="#000" stroke-width="1.1" />
<line x1="545.00" y1="429.40" x2="549.50" y2="429.40" stroke="#000" stroke-width="1.1" />
<text x="543.60" y="433.40" font-size="11.4" text-anchor="end" >0</text>
<line x1="545.00" y1="385.00" x2="549.50" y2="385.00" stroke="#000" stroke-width="1.1" />
<text x="543.60" y="389.00" font-size="11.4" text-anchor="end" >100</text>
<line x1="545.00" y1="340.60" x2="549.50" y2="340.60" stroke="#000" stroke-width="1.1" />
<text x="543.60" y="344.60" font-size="11.4" text-anchor="end" >200</text>
<line x1="545.00" y1="296.20" x2="549.50" y2="296.20" stroke="#000" stroke-width="1.1" />
<text x="543.60" y="300.20" font-size="11.4" text-anchor="end" >300</text>
<line x1="549.50" y1="429.40" x2="549.50" y2="436.00" stroke="#000" stroke-width="1.1" />
<text x="549.50" y="448.90" font-size="11.4" text-anchor="middle" >0</text>
<line x1="589.43" y1="429.40" x2="589.43" y2="436.00" stroke="#000" stroke-width="1.1" />
<text x="589.43" y="448.90" font-size="11.4" text-anchor="middle" >10</text>
<line x1="629.37" y1="429.40" x2="629.37" y2="436.00" stroke="#000" stroke-width="1.1" />
<text x="629.37" y="448.90" font-size="11.4" text-anchor="middle" >20</text>
<line x1="669.30" y1="429.40" x2="669.30" y2="436.00" stroke="#000" stroke-width="1.1" />
<text x="669.30" y="448.90" font-size="11.4" text-anchor="middle" >30</text>
<text x="610.00" y="460.20" font-size="11.3" text-anchor="middle" >Days</text>
<polyline points="549.50,429.40 597.42,406.31 605.41,395.21 613.39,385.00 625.37,377.45 633.36,363.69 653.33,336.16 661.31,324.62" fill="none" stroke="#f87a7a" stroke-width="1.0"/>
<line x1="597.42" y1="408.53" x2="597.42" y2="404.09" stroke="#f87a7a" stroke-width="1.1" />
<line x1="595.12" y1="404.09" x2="599.72" y2="404.09" stroke="#f87a7a" stroke-width="1.1" />
<line x1="595.12" y1="408.53" x2="599.72" y2="408.53" stroke="#f87a7a" stroke-width="1.1" />
<line x1="605.41" y1="399.65" x2="605.41" y2="390.77" stroke="#f87a7a" stroke-width="1.1" />
<line x1="603.11" y1="390.77" x2="607.71" y2="390.77" stroke="#f87a7a" stroke-width="1.1" />
<line x1="603.11" y1="399.65" x2="607.71" y2="399.65" stroke="#f87a7a" stroke-width="1.1" />
<line x1="613.39" y1="391.22" x2="613.39" y2="378.78" stroke="#f87a7a" stroke-width="1.1" />
<line x1="611.09" y1="378.78" x2="615.69" y2="378.78" stroke="#f87a7a" stroke-width="1.1" />
<line x1="611.09" y1="391.22" x2="615.69" y2="391.22" stroke="#f87a7a" stroke-width="1.1" />
<line x1="625.37" y1="383.67" x2="625.37" y2="371.24" stroke="#f87a7a" stroke-width="1.1" />
<line x1="623.07" y1="371.24" x2="627.67" y2="371.24" stroke="#f87a7a" stroke-width="1.1" />
<line x1="623.07" y1="383.67" x2="627.67" y2="383.67" stroke="#f87a7a" stroke-width="1.1" />
<line x1="633.36" y1="370.35" x2="633.36" y2="357.03" stroke="#f87a7a" stroke-width="1.1" />
<line x1="631.06" y1="357.03" x2="635.66" y2="357.03" stroke="#f87a7a" stroke-width="1.1" />
<line x1="631.06" y1="370.35" x2="635.66" y2="370.35" stroke="#f87a7a" stroke-width="1.1" />
<line x1="653.33" y1="345.93" x2="653.33" y2="326.39" stroke="#f87a7a" stroke-width="1.1" />
<line x1="651.03" y1="326.39" x2="655.63" y2="326.39" stroke="#f87a7a" stroke-width="1.1" />
<line x1="651.03" y1="345.93" x2="655.63" y2="345.93" stroke="#f87a7a" stroke-width="1.1" />
<line x1="661.31" y1="338.82" x2="661.31" y2="310.41" stroke="#f87a7a" stroke-width="1.1" />
<line x1="659.01" y1="310.41" x2="663.61" y2="310.41" stroke="#f87a7a" stroke-width="1.1" />
<line x1="659.01" y1="338.82" x2="663.61" y2="338.82" stroke="#f87a7a" stroke-width="1.1" />
<polyline points="549.50,429.40 597.42,406.76 605.41,398.76 613.39,394.32 625.37,385.89 633.36,374.34 653.33,347.26 661.31,332.61" fill="none" stroke="#f87a7a" stroke-width="1.0"/>
<line x1="597.42" y1="408.53" x2="597.42" y2="404.98" stroke="#f87a7a" stroke-width="1.1" />
<line x1="595.12" y1="404.98" x2="599.72" y2="404.98" stroke="#f87a7a" stroke-width="1.1" />
<line x1="595.12" y1="408.53" x2="599.72" y2="408.53" stroke="#f87a7a" stroke-width="1.1" />
<line x1="605.41" y1="401.87" x2="605.41" y2="395.66" stroke="#f87a7a" stroke-width="1.1" />
<line x1="603.11" y1="395.66" x2="607.71" y2="395.66" stroke="#f87a7a" stroke-width="1.1" />
<line x1="603.11" y1="401.87" x2="607.71" y2="401.87" stroke="#f87a7a" stroke-width="1.1" />
<line x1="613.39" y1="398.32" x2="613.39" y2="390.33" stroke="#f87a7a" stroke-width="1.1" />
<line x1="611.09" y1="390.33" x2="615.69" y2="390.33" stroke="#f87a7a" stroke-width="1.1" />
<line x1="611.09" y1="398.32" x2="615.69" y2="398.32" stroke="#f87a7a" stroke-width="1.1" />
<line x1="625.37" y1="390.33" x2="625.37" y2="381.45" stroke="#f87a7a" stroke-width="1.1" />
<line x1="623.07" y1="381.45" x2="627.67" y2="381.45" stroke="#f87a7a" stroke-width="1.1" />
<line x1="623.07" y1="390.33" x2="627.67" y2="390.33" stroke="#f87a7a" stroke-width="1.1" />
<line x1="633.36" y1="379.23" x2="633.36" y2="369.46" stroke="#f87a7a" stroke-width="1.1" />
<line x1="631.06" y1="369.46" x2="635.66" y2="369.46" stroke="#f87a7a" stroke-width="1.1" />
<line x1="631.06" y1="379.23" x2="635.66" y2="379.23" stroke="#f87a7a" stroke-width="1.1" />
<line x1="653.33" y1="357.47" x2="653.33" y2="337.05" stroke="#f87a7a" stroke-width="1.1" />
<line x1="651.03" y1="337.05" x2="655.63" y2="337.05" stroke="#f87a7a" stroke-width="1.1" />
<line x1="651.03" y1="357.47" x2="655.63" y2="357.47" stroke="#f87a7a" stroke-width="1.1" />
<line x1="661.31" y1="344.60" x2="661.31" y2="320.62" stroke="#f87a7a" stroke-width="1.1" />
<line x1="659.01" y1="320.62" x2="663.61" y2="320.62" stroke="#f87a7a" stroke-width="1.1" />
<line x1="659.01" y1="344.60" x2="663.61" y2="344.60" stroke="#f87a7a" stroke-width="1.1" />
<rect x="546.30" y="426.20" width="6.40" height="6.40" fill="#f87a7a" />
<rect x="594.22" y="403.11" width="6.40" height="6.40" fill="#f87a7a" />
<rect x="602.21" y="392.01" width="6.40" height="6.40" fill="#f87a7a" />
<rect x="610.19" y="381.80" width="6.40" height="6.40" fill="#f87a7a" />
<rect x="622.17" y="374.25" width="6.40" height="6.40" fill="#f87a7a" />
<rect x="630.16" y="360.49" width="6.40" height="6.40" fill="#f87a7a" />
<rect x="650.13" y="332.96" width="6.40" height="6.40" fill="#f87a7a" />
<rect x="658.11" y="321.42" width="6.40" height="6.40" fill="#f87a7a" />
<circle cx="549.50" cy="429.40" r="3.2" fill="#f87a7a" />
<circle cx="597.42" cy="406.76" r="3.2" fill="#f87a7a" />
<circle cx="605.41" cy="398.76" r="3.2" fill="#f87a7a" />
<circle cx="613.39" cy="394.32" r="3.2" fill="#f87a7a" />
<circle cx="625.37" cy="385.89" r="3.2" fill="#f87a7a" />
<circle cx="633.36" cy="374.34" r="3.2" fill="#f87a7a" />
<circle cx="653.33" cy="347.26" r="3.2" fill="#f87a7a" />
<circle cx="661.31" cy="332.61" r="3.2" fill="#f87a7a" />
<text x="0" y="0" font-size="11.8" transform="translate(187.60,363.10) rotate(-90)" text-anchor="middle" >Tumor size (mm<tspan font-size="8.2" dy="-4.5">2</tspan><tspan dy="4.5">)</tspan></text>
<line x1="226.00" y1="303.70" x2="243.50" y2="303.70" stroke="#000" stroke-width="1.1" />
<rect x="232.10" y="300.80" width="5.80" height="5.80" fill="#fff" stroke="#000" stroke-width="1.1" />
<line x1="226.00" y1="323.70" x2="243.50" y2="323.70" stroke="#000" stroke-width="1.1" />
<circle cx="235.00" cy="323.70" r="2.9" fill="#fff" stroke="#000" stroke-width="1.1"/>
<text x="254.90" y="307.50" font-size="11.5" >-</text>
<text x="254.70" y="320.50" font-size="11.5" >CDDP/Pem</text>
<text x="254.70" y="334.60" font-size="11.5" >+ <tspan font-family="Liberation Serif" font-size="12.5">α</tspan><tspan dx="1.8">PD-1</tspan></text>
<text x="292.20" y="295.50" font-size="11.8" text-anchor="middle" >Control</text>
<text x="339.60" y="346.50" font-size="8.8" >n.s.</text>
<text x="451.60" y="294.70" font-size="11.8" text-anchor="middle" fill="#a00000" font-style="italic" >Txnip<tspan font-size="9" dy="-4.3">#</tspan></text>
<line x1="507.20" y1="317.20" x2="507.20" y2="363.20" stroke="#000" stroke-width="1.3" />
<text x="0" y="0" font-size="8.0" transform="translate(510.00,340.20) rotate(90)" text-anchor="middle" >p=0.0003</text>
<text x="612.30" y="294.20" font-size="11.8" text-anchor="middle" fill="#f87a7a" font-style="italic" >Cxcl10<tspan font-size="8.2" dy="-4.5" font-style="normal">KD</tspan><tspan dy="4.5">/Txnip</tspan><tspan font-size="9" dy="-4.3">#</tspan></text>
<text x="671.80" y="331.50" font-size="8.8" >n.s.</text>
<text x="0" y="0" font-size="22" font-weight="bold" transform="translate(0.40,489.00) scale(0.93,1)">G</text>
<rect x="79.10" y="558.70" width="15.80" height="15.40" fill="#d9d9d9" />
<rect x="95.57" y="558.70" width="15.80" height="15.40" fill="#eeeeee" />
<rect x="112.04" y="558.70" width="15.80" height="15.40" fill="#f9eded" />
<rect x="128.51" y="558.70" width="15.80" height="15.40" fill="#c86a6a" />
<rect x="144.98" y="558.70" width="15.80" height="15.40" fill="#9b9b9b" />
<rect x="161.45" y="558.70" width="15.80" height="15.40" fill="#f8eeee" />
<rect x="177.92" y="558.70" width="15.80" height="15.40" fill="#222222" />
<rect x="194.39" y="558.70" width="15.80" height="15.40" fill="#555555" />
<rect x="79.10" y="575.22" width="15.80" height="15.40" fill="#9c9c9c" />
<rect x="95.57" y="575.22" width="15.80" height="15.40" fill="#a3a3a3" />
<rect x="112.04" y="575.22" width="15.80" height="15.40" fill="#a0a0a0" />
<rect x="128.51" y="575.22" width="15.80" height="15.40" fill="#efd0d0" />
<rect x="144.98" y="575.22" width="15.80" height="15.40" fill="#a5a5a5" />
<rect x="161.45" y="575.22" width="15.80" height="15.40" fill="#f5e3e3" />
<rect x="177.92" y="575.22" width="15.80" height="15.40" fill="#e6e6e6" />
<rect x="194.39" y="575.22" width="15.80" height="15.40" fill="#f0d5d5" />
<rect x="79.10" y="591.74" width="15.80" height="15.40" fill="#9d9d9d" />
<rect x="95.57" y="591.74" width="15.80" height="15.40" fill="#959595" />
<rect x="112.04" y="591.74" width="15.80" height="15.40" fill="#777777" />
<rect x="128.51" y="591.74" width="15.80" height="15.40" fill="#f0d2d2" />
<rect x="144.98" y="591.74" width="15.80" height="15.40" fill="#fefefe" />
<rect x="161.45" y="591.74" width="15.80" height="15.40" fill="#e0a5a5" />
<rect x="177.92" y="591.74" width="15.80" height="15.40" fill="#525252" />
<rect x="194.39" y="591.74" width="15.80" height="15.40" fill="#989898" />
<rect x="79.10" y="608.26" width="15.80" height="15.40" fill="#a3a3a3" />
<rect x="95.57" y="608.26" width="15.80" height="15.40" fill="#b3b3b3" />
<rect x="112.04" y="608.26" width="15.80" height="15.40" fill="#a8a8a8" />
<rect x="128.51" y="608.26" width="15.80" height="15.40" fill="#f5e1e1" />
<rect x="144.98" y="608.26" width="15.80" height="15.40" fill="#dcdcdc" />
<rect x="161.45" y="608.26" width="15.80" height="15.40" fill="#c4c4c4" />
<rect x="177.92" y="608.26" width="15.80" height="15.40" fill="#efefef" />
<rect x="194.39" y="608.26" width="15.80" height="15.40" fill="#ecc4c4" />
<rect x="79.10" y="624.78" width="15.80" height="15.40" fill="#585858" />
<rect x="95.57" y="624.78" width="15.80" height="15.40" fill="#9d9d9d" />
<rect x="112.04" y="624.78" width="15.80" height="15.40" fill="#575757" />
<rect x="128.51" y="624.78" width="15.80" height="15.40" fill="#b00000" />
<rect x="144.98" y="624.78" width="15.80" height="15.40" fill="#4a4a4a" />
<rect x="161.45" y="624.78" width="15.80" height="15.40" fill="#000000" />
<rect x="177.92" y="624.78" width="15.80" height="15.40" fill="#a0a0a0" />
<rect x="194.39" y="624.78" width="15.80" height="15.40" fill="#737373" />
<text x="73.00" y="570.60" font-size="11.6" text-anchor="end" font-style="italic" >Cxcl10</text>
<text x="73.00" y="587.12" font-size="11.6" text-anchor="end" font-style="italic" >Ifng</text>
<text x="73.00" y="603.64" font-size="11.6" text-anchor="end" font-style="italic" >GzmB</text>
<text x="73.00" y="620.16" font-size="11.6" text-anchor="end" font-style="italic" >Cd3e</text>
<text x="73.00" y="636.68" font-size="11.6" text-anchor="end" font-style="italic" >Cd8a</text>
<text x="134.90" y="571.60" font-size="10.0" text-anchor="middle" >*</text>
<text x="136.90" y="590.00" font-size="10.0" text-anchor="middle" >*</text>
<text x="137.30" y="607.70" font-size="10.0" text-anchor="middle" >**</text>
<text x="138.40" y="638.50" font-size="10.0" text-anchor="middle" >***</text>
<rect x="217.30" y="558.60" width="7.80" height="49.20" fill="url(#cbar)" />
<line x1="217.30" y1="563.80" x2="218.60" y2="563.80" stroke="#fff" stroke-width="0.7" />
<line x1="223.80" y1="563.80" x2="225.10" y2="563.80" stroke="#fff" stroke-width="0.7" />
<text x="228.60" y="566.20" font-size="6.8" >1.5</text>
<line x1="217.30" y1="572.40" x2="218.60" y2="572.40" stroke="#fff" stroke-width="0.7" />
<line x1="223.80" y1="572.40" x2="225.10" y2="572.40" stroke="#fff" stroke-width="0.7" />
<text x="228.60" y="574.80" font-size="6.8" >1.0</text>
<line x1="217.30" y1="580.60" x2="218.60" y2="580.60" stroke="#fff" stroke-width="0.7" />
<line x1="223.80" y1="580.60" x2="225.10" y2="580.60" stroke="#fff" stroke-width="0.7" />
<text x="228.60" y="583.00" font-size="6.8" >0.5</text>
<line x1="217.30" y1="588.80" x2="218.60" y2="588.80" stroke="#fff" stroke-width="0.7" />
<line x1="223.80" y1="588.80" x2="225.10" y2="588.80" stroke="#fff" stroke-width="0.7" />
<text x="228.60" y="591.20" font-size="6.8" >0</text>
<line x1="217.30" y1="597.40" x2="218.60" y2="597.40" stroke="#fff" stroke-width="0.7" />
<line x1="223.80" y1="597.40" x2="225.10" y2="597.40" stroke="#fff" stroke-width="0.7" />
<text x="228.60" y="599.80" font-size="6.8" >-0.5</text>
<line x1="217.30" y1="605.70" x2="218.60" y2="605.70" stroke="#fff" stroke-width="0.7" />
<line x1="223.80" y1="605.70" x2="225.10" y2="605.70" stroke="#fff" stroke-width="0.7" />
<text x="228.60" y="608.10" font-size="6.8" >-1.0</text>
<text x="12.30" y="543.30" font-size="11.6" >CDDP/Pem</text>
<text x="33.30" y="554.10" font-size="11.6" >+ αPD-1</text>
<line x1="87.10" y1="546.50" x2="90.10" y2="546.50" stroke="#000" stroke-width="1.0" />
<line x1="102.97" y1="546.50" x2="108.37" y2="546.50" stroke="#000" stroke-width="1.0" />
<line x1="105.67" y1="543.80" x2="105.67" y2="549.20" stroke="#000" stroke-width="1.0" />
<line x1="120.04" y1="546.50" x2="123.04" y2="546.50" stroke="#000" stroke-width="1.0" />
<line x1="135.91" y1="546.50" x2="141.31" y2="546.50" stroke="#000" stroke-width="1.0" />
<line x1="138.61" y1="543.80" x2="138.61" y2="549.20" stroke="#000" stroke-width="1.0" />
<line x1="152.98" y1="546.50" x2="155.98" y2="546.50" stroke="#000" stroke-width="1.0" />
<line x1="168.85" y1="546.50" x2="174.25" y2="546.50" stroke="#000" stroke-width="1.0" />
<line x1="171.55" y1="543.80" x2="171.55" y2="549.20" stroke="#000" stroke-width="1.0" />
<line x1="185.92" y1="546.50" x2="188.92" y2="546.50" stroke="#000" stroke-width="1.0" />
<line x1="201.79" y1="546.50" x2="207.19" y2="546.50" stroke="#000" stroke-width="1.0" />
<line x1="204.49" y1="543.80" x2="204.49" y2="549.20" stroke="#000" stroke-width="1.0" />
<line x1="88.20" y1="537.90" x2="104.50" y2="537.90" stroke="#888" stroke-width="1.2" />
<line x1="121.60" y1="537.90" x2="137.90" y2="537.90" stroke="#888" stroke-width="1.2" />
<line x1="154.30" y1="537.90" x2="170.60" y2="537.90" stroke="#888" stroke-width="1.2" />
<line x1="187.00" y1="537.90" x2="203.30" y2="537.90" stroke="#888" stroke-width="1.2" />
<text x="0" y="0" font-size="11.5" transform="translate(95.20,538.00) rotate(-40)" >Control</text>
<text x="0" y="0" font-size="11.5" transform="translate(129.00,536.90) rotate(-40)" font-style="italic" >Txnip<tspan font-size="9" dy="-4.3">#</tspan></text>
<text x="0" y="0" font-size="11.5" transform="translate(162.60,537.00) rotate(-40)" font-style="italic" >Cxcl10<tspan font-size="7.5" dy="-4.5" font-style="normal">KD</tspan></text>
<text x="0" y="0" font-size="11.5" transform="translate(195.60,531.50) rotate(-40)" font-style="italic" >Cxcl10<tspan font-size="7.5" dy="-4.5" font-style="normal">KD</tspan></text>
<text x="0" y="0" font-size="11.5" transform="translate(200.90,537.30) rotate(-40)" font-style="italic" >Txnip<tspan font-size="9" dy="-4.3">#</tspan></text>
<text x="0" y="0" font-size="22" font-weight="bold" transform="translate(261.10,488.80) scale(0.93,1)">H</text>
<rect x="325.00" y="489.90" width="9.30" height="9.10" fill="#000" />
<text x="338.40" y="497.00" font-size="11.6" >EV</text>
<rect x="325.00" y="502.60" width="9.30" height="8.80" fill="#a00000" />
<text x="338.10" y="510.70" font-size="11.6" font-style="italic" >TXNIP<tspan font-size="9" dy="-5.3" dx="-1.2">#</tspan></text>
<line x1="321.30" y1="515.50" x2="321.30" y2="649.60" stroke="#555" stroke-width="1.3" />
<line x1="316.50" y1="516.86" x2="321.30" y2="516.86" stroke="#555" stroke-width="1.2" />
<text x="314.80" y="517.76" font-size="7.0" text-anchor="end" >20</text>
<text x="305.50" y="521.06" font-size="11.0" text-anchor="end" >2</text>
<line x1="316.50" y1="543.42" x2="321.30" y2="543.42" stroke="#555" stroke-width="1.2" />
<text x="314.80" y="544.32" font-size="7.0" text-anchor="end" >15</text>
<text x="305.50" y="547.62" font-size="11.0" text-anchor="end" >2</text>
<line x1="316.50" y1="569.98" x2="321.30" y2="569.98" stroke="#555" stroke-width="1.2" />
<text x="314.80" y="570.88" font-size="7.0" text-anchor="end" >10</text>
<text x="305.50" y="574.18" font-size="11.0" text-anchor="end" >2</text>
<line x1="316.50" y1="596.54" x2="321.30" y2="596.54" stroke="#555" stroke-width="1.2" />
<text x="314.80" y="597.44" font-size="7.0" text-anchor="end" >5</text>
<text x="309.40" y="600.74" font-size="11.0" text-anchor="end" >2</text>
<line x1="316.50" y1="623.10" x2="321.30" y2="623.10" stroke="#555" stroke-width="1.2" />
<text x="314.80" y="624.00" font-size="7.0" text-anchor="end" >0</text>
<text x="309.40" y="627.30" font-size="11.0" text-anchor="end" >2</text>
<line x1="316.50" y1="649.66" x2="321.30" y2="649.66" stroke="#555" stroke-width="1.2" />
<text x="314.80" y="650.56" font-size="7.0" text-anchor="end" >-5</text>
<text x="307.00" y="653.86" font-size="11.0" text-anchor="end" >2</text>
<line x1="320.70" y1="649.60" x2="421.60" y2="649.60" stroke="#555" stroke-width="1.3" />
<line x1="347.40" y1="649.60" x2="347.40" y2="654.20" stroke="#555" stroke-width="1.2" />
<line x1="394.00" y1="649.60" x2="394.00" y2="654.20" stroke="#555" stroke-width="1.2" />
<text x="347.40" y="667.20" font-size="11.4" text-anchor="middle" >H460</text>
<text x="394.20" y="667.20" font-size="11.4" text-anchor="middle" >H1299</text>
<text x="0" y="0" font-size="11.75" transform="translate(295.00,583.50) rotate(-90)" text-anchor="middle" ><tspan font-style="italic">TXNIP/ACTB</tspan> mRNA</text>
<rect x="329.60" y="620.40" width="17.80" height="29.20" fill="#000" />
<line x1="338.50" y1="620.40" x2="338.50" y2="614.50" stroke="#333" stroke-width="1.2" />
<line x1="336.00" y1="614.50" x2="341.00" y2="614.50" stroke="#333" stroke-width="1.2" />
<circle cx="338.50" cy="613.20" r="1.95" fill="#9a9a9a" />
<circle cx="333.00" cy="618.50" r="1.95" fill="#9a9a9a" />
<circle cx="336.00" cy="618.00" r="1.95" fill="#9a9a9a" />
<circle cx="341.00" cy="618.00" r="1.95" fill="#9a9a9a" />
<circle cx="344.00" cy="618.50" r="1.95" fill="#9a9a9a" />
<circle cx="331.50" cy="621.50" r="1.95" fill="#9a9a9a" />
<circle cx="335.00" cy="621.00" r="1.95" fill="#9a9a9a" />
<circle cx="339.00" cy="621.50" r="1.95" fill="#9a9a9a" />
<circle cx="343.00" cy="621.50" r="1.95" fill="#9a9a9a" />
<circle cx="346.00" cy="621.00" r="1.95" fill="#9a9a9a" />
<circle cx="334.00" cy="624.50" r="1.95" fill="#9a9a9a" />
<circle cx="341.50" cy="624.50" r="1.95" fill="#9a9a9a" />
<circle cx="338.00" cy="627.50" r="1.95" fill="#9a9a9a" />
<rect x="348.00" y="533.80" width="17.80" height="115.80" fill="#a00000" />
<circle cx="360.00" cy="530.40" r="1.95" fill="#7d0000" />
<circle cx="350.00" cy="534.00" r="1.95" fill="#7d0000" />
<circle cx="355.00" cy="533.30" r="1.95" fill="#7d0000" />
<circle cx="363.90" cy="533.30" r="1.95" fill="#7d0000" />
<circle cx="359.00" cy="535.50" r="1.95" fill="#7d0000" />
<circle cx="353.00" cy="544.20" r="1.95" fill="#7d0000" />
<circle cx="356.60" cy="539.90" r="1.95" fill="#7d0000" />
<circle cx="360.00" cy="542.00" r="1.95" fill="#7d0000" />
<circle cx="351.00" cy="538.00" r="1.95" fill="#7d0000" />
<circle cx="362.00" cy="538.00" r="1.95" fill="#7d0000" />
<rect x="376.00" y="619.80" width="17.60" height="29.80" fill="#000" />
<line x1="384.80" y1="619.80" x2="384.80" y2="611.50" stroke="#333" stroke-width="1.2" />
<line x1="382.30" y1="611.50" x2="387.30" y2="611.50" stroke="#333" stroke-width="1.2" />
<circle cx="384.80" cy="608.60" r="1.95" fill="#9a9a9a" />
<circle cx="380.00" cy="617.00" r="1.95" fill="#9a9a9a" />
<circle cx="383.00" cy="617.50" r="1.95" fill="#9a9a9a" />
<circle cx="386.50" cy="617.50" r="1.95" fill="#9a9a9a" />
<circle cx="390.00" cy="617.00" r="1.95" fill="#9a9a9a" />
<circle cx="378.50" cy="620.50" r="1.95" fill="#9a9a9a" />
<circle cx="382.00" cy="620.50" r="1.95" fill="#9a9a9a" />
<circle cx="386.00" cy="621.00" r="1.95" fill="#9a9a9a" />
<circle cx="390.50" cy="621.00" r="1.95" fill="#9a9a9a" />
<circle cx="380.50" cy="624.50" r="1.95" fill="#9a9a9a" />
<circle cx="388.50" cy="624.50" r="1.95" fill="#9a9a9a" />
<circle cx="384.00" cy="627.50" r="1.95" fill="#9a9a9a" />
<rect x="394.60" y="527.60" width="17.80" height="122.00" fill="#a00000" />
<circle cx="397.00" cy="526.00" r="1.95" fill="#7d0000" />
<circle cx="400.50" cy="525.50" r="1.95" fill="#7d0000" />
<circle cx="404.00" cy="526.00" r="1.95" fill="#7d0000" />
<circle cx="408.00" cy="525.00" r="1.95" fill="#7d0000" />
<circle cx="411.00" cy="526.50" r="1.95" fill="#7d0000" />
<circle cx="396.50" cy="529.50" r="1.95" fill="#7d0000" />
<circle cx="401.00" cy="530.00" r="1.95" fill="#7d0000" />
<circle cx="405.00" cy="529.50" r="1.95" fill="#7d0000" />
<circle cx="409.50" cy="530.00" r="1.95" fill="#7d0000" />
<text x="331.80" y="524.50" font-size="8.0" >p&lt;0.0001</text>
<line x1="339.10" y1="526.70" x2="358.10" y2="526.70" stroke="#000" stroke-width="0.9" />
<text x="377.00" y="517.60" font-size="8.0" >p&lt;0.0001</text>
<line x1="386.50" y1="519.70" x2="403.50" y2="519.70" stroke="#000" stroke-width="0.9" />
<line x1="504.50" y1="503.00" x2="504.50" y2="636.40" stroke="#000" stroke-width="1.2" />
<line x1="500.20" y1="636.40" x2="504.50" y2="636.40" stroke="#000" stroke-width="1.1" />
<text x="497.10" y="640.20" font-size="11.0" text-anchor="end" >0</text>
<line x1="500.20" y1="609.83" x2="504.50" y2="609.83" stroke="#000" stroke-width="1.1" />
<text x="497.10" y="613.63" font-size="11.0" text-anchor="end" >20</text>
<line x1="500.20" y1="583.26" x2="504.50" y2="583.26" stroke="#000" stroke-width="1.1" />
<text x="497.10" y="587.06" font-size="11.0" text-anchor="end" >40</text>
<line x1="500.20" y1="556.69" x2="504.50" y2="556.69" stroke="#000" stroke-width="1.1" />
<text x="497.10" y="560.49" font-size="11.0" text-anchor="end" >60</text>
<line x1="500.20" y1="530.12" x2="504.50" y2="530.12" stroke="#000" stroke-width="1.1" />
<text x="497.10" y="533.92" font-size="11.0" text-anchor="end" >80</text>
<line x1="500.20" y1="503.55" x2="504.50" y2="503.55" stroke="#000" stroke-width="1.1" />
<text x="497.10" y="507.35" font-size="11.0" text-anchor="end" >100</text>
<line x1="503.90" y1="636.40" x2="605.00" y2="636.40" stroke="#000" stroke-width="1.2" />
<line x1="518.20" y1="636.40" x2="518.20" y2="640.30" stroke="#000" stroke-width="1.0" />
<line x1="516.40" y1="649.40" x2="520.00" y2="649.40" stroke="#000" stroke-width="0.9" />
<line x1="542.50" y1="636.40" x2="542.50" y2="640.30" stroke="#000" stroke-width="1.0" />
<line x1="539.30" y1="649.40" x2="545.70" y2="649.40" stroke="#000" stroke-width="0.9" />
<line x1="542.50" y1="646.20" x2="542.50" y2="652.60" stroke="#000" stroke-width="0.9" />
<line x1="566.10" y1="636.40" x2="566.10" y2="640.30" stroke="#000" stroke-width="1.0" />
<line x1="564.30" y1="649.40" x2="567.90" y2="649.40" stroke="#000" stroke-width="0.9" />
<line x1="590.40" y1="636.40" x2="590.40" y2="640.30" stroke="#000" stroke-width="1.0" />
<line x1="587.20" y1="649.40" x2="593.60" y2="649.40" stroke="#000" stroke-width="0.9" />
<line x1="590.40" y1="646.20" x2="590.40" y2="652.60" stroke="#000" stroke-width="0.9" />
<text x="554.00" y="668.20" font-size="11.8" text-anchor="middle" >CDDP/Pem</text>
<text x="530.20" y="502.70" font-size="11.4" text-anchor="middle" >H460</text>
<line x1="515.40" y1="506.30" x2="545.50" y2="506.30" stroke="#000" stroke-width="1.1" />
<text x="579.60" y="502.70" font-size="11.4" text-anchor="middle" >H1299</text>
<line x1="564.50" y1="506.30" x2="595.00" y2="506.30" stroke="#000" stroke-width="1.1" />
<text x="0" y="0" font-size="11.6" transform="translate(470.80,570.50) rotate(-90)" text-anchor="middle" ><tspan font-style="italic">CXCL10/ACTB</tspan> mRNA</text>
<rect x="508.90" y="635.07" width="9.10" height="1.33" fill="#000" />
<circle cx="510.00" cy="634.00" r="2.2" fill="#8a8a8a" />
<circle cx="513.00" cy="633.50" r="2.2" fill="#8a8a8a" />
<circle cx="516.00" cy="634.00" r="2.2" fill="#8a8a8a" />
<circle cx="511.50" cy="635.20" r="2.2" fill="#8a8a8a" />
<circle cx="515.00" cy="635.20" r="2.2" fill="#8a8a8a" />
<rect x="518.90" y="629.00" width="8.50" height="7.40" fill="#a00000" />
<line x1="523.10" y1="629.00" x2="523.10" y2="617.60" stroke="#7d0000" stroke-width="1.2" />
<line x1="520.85" y1="617.60" x2="525.35" y2="617.60" stroke="#7d0000" stroke-width="1.2" />
<circle cx="522.80" cy="608.10" r="1.95" fill="#7d0000" />
<circle cx="522.80" cy="629.60" r="1.95" fill="#7d0000" />
<circle cx="520.50" cy="632.50" r="1.95" fill="#7d0000" />
<circle cx="525.50" cy="632.00" r="1.95" fill="#7d0000" />
<circle cx="523.00" cy="634.50" r="1.95" fill="#7d0000" />
<circle cx="521.00" cy="635.00" r="1.95" fill="#7d0000" />
<rect x="533.20" y="634.27" width="9.10" height="2.13" fill="#000" />
<circle cx="534.50" cy="633.00" r="2.2" fill="#8a8a8a" />
<circle cx="537.50" cy="631.50" r="2.2" fill="#8a8a8a" />
<circle cx="540.50" cy="632.50" r="2.2" fill="#8a8a8a" />
<circle cx="535.50" cy="634.80" r="2.2" fill="#8a8a8a" />
<circle cx="539.50" cy="634.80" r="2.2" fill="#8a8a8a" />
<circle cx="537.50" cy="629.50" r="2.2" fill="#8a8a8a" />
<rect x="543.20" y="589.60" width="8.60" height="46.80" fill="#a00000" />
<line x1="547.50" y1="589.60" x2="547.50" y2="557.20" stroke="#7d0000" stroke-width="1.2" />
<line x1="545.25" y1="557.20" x2="549.75" y2="557.20" stroke="#7d0000" stroke-width="1.2" />
<circle cx="547.10" cy="542.80" r="1.95" fill="#7d0000" />
<circle cx="547.10" cy="571.10" r="1.95" fill="#7d0000" />
<circle cx="544.80" cy="584.50" r="1.95" fill="#7d0000" />
<circle cx="549.30" cy="584.50" r="1.95" fill="#7d0000" />
<circle cx="547.50" cy="600.00" r="1.95" fill="#7d0000" />
<circle cx="547.00" cy="623.20" r="1.95" fill="#7d0000" />
<circle cx="547.50" cy="628.50" r="1.95" fill="#7d0000" />
<rect x="557.00" y="635.07" width="8.80" height="1.33" fill="#000" />
<circle cx="558.00" cy="633.50" r="2.2" fill="#8a8a8a" />
<circle cx="561.00" cy="633.00" r="2.2" fill="#8a8a8a" />
<circle cx="564.00" cy="633.50" r="2.2" fill="#8a8a8a" />
<circle cx="559.50" cy="635.20" r="2.2" fill="#8a8a8a" />
<circle cx="563.00" cy="635.20" r="2.2" fill="#8a8a8a" />
<rect x="566.80" y="609.30" width="9.20" height="27.10" fill="#a00000" />
<line x1="571.40" y1="609.30" x2="571.40" y2="600.70" stroke="#7d0000" stroke-width="1.2" />
<line x1="569.15" y1="600.70" x2="573.65" y2="600.70" stroke="#7d0000" stroke-width="1.2" />
<circle cx="568.70" cy="597.70" r="1.95" fill="#7d0000" />
<circle cx="574.50" cy="594.90" r="1.95" fill="#7d0000" />
<circle cx="571.40" cy="603.00" r="1.95" fill="#7d0000" />
<circle cx="568.50" cy="608.00" r="1.95" fill="#7d0000" />
<circle cx="574.00" cy="608.00" r="1.95" fill="#7d0000" />
<circle cx="571.00" cy="615.00" r="1.95" fill="#7d0000" />
<circle cx="569.50" cy="624.00" r="1.95" fill="#7d0000" />
<circle cx="573.50" cy="624.00" r="1.95" fill="#7d0000" />
<rect x="581.20" y="630.10" width="9.20" height="6.30" fill="#000" />
<line x1="585.80" y1="630.10" x2="585.80" y2="625.00" stroke="#000" stroke-width="1.2" />
<line x1="583.80" y1="625.00" x2="587.80" y2="625.00" stroke="#000" stroke-width="1.2" />
<circle cx="583.00" cy="627.50" r="2.2" fill="#8a8a8a" />
<circle cx="586.00" cy="626.00" r="2.2" fill="#8a8a8a" />
<circle cx="589.00" cy="624.00" r="2.2" fill="#8a8a8a" />
<circle cx="590.00" cy="622.50" r="2.2" fill="#8a8a8a" />
<circle cx="582.50" cy="632.00" r="2.2" fill="#8a8a8a" />
<circle cx="586.00" cy="633.00" r="2.2" fill="#8a8a8a" />
<circle cx="589.00" cy="632.50" r="2.2" fill="#8a8a8a" />
<circle cx="584.00" cy="635.00" r="2.2" fill="#8a8a8a" />
<rect x="591.10" y="585.70" width="9.30" height="50.70" fill="#a00000" />
<line x1="595.70" y1="585.70" x2="595.70" y2="558.30" stroke="#7d0000" stroke-width="1.2" />
<line x1="593.45" y1="558.30" x2="597.95" y2="558.30" stroke="#7d0000" stroke-width="1.2" />
<circle cx="595.10" cy="519.00" r="1.95" fill="#7d0000" />
<circle cx="595.10" cy="560.70" r="1.95" fill="#7d0000" />
<circle cx="595.10" cy="580.30" r="1.95" fill="#7d0000" />
<circle cx="593.20" cy="586.00" r="1.95" fill="#7d0000" />
<circle cx="597.60" cy="586.50" r="1.95" fill="#7d0000" />
<circle cx="593.00" cy="598.00" r="1.95" fill="#7d0000" />
<circle cx="597.50" cy="598.00" r="1.95" fill="#7d0000" />
<circle cx="595.00" cy="610.00" r="1.95" fill="#7d0000" />
<circle cx="593.00" cy="620.00" r="1.95" fill="#7d0000" />
<circle cx="597.50" cy="620.00" r="1.95" fill="#7d0000" />
<text x="512.40" y="600.70" font-size="8.8" >n.s.</text>
<line x1="513.50" y1="603.50" x2="524.00" y2="603.50" stroke="#666" stroke-width="1.1" />
<text x="521.60" y="535.20" font-size="8.0" >p=0.0022</text>
<line x1="536.70" y1="537.50" x2="547.10" y2="537.50" stroke="#666" stroke-width="1.1" />
<text x="551.80" y="587.30" font-size="8.0" >p&lt;0.0001</text>
<line x1="561.00" y1="589.60" x2="571.40" y2="589.60" stroke="#666" stroke-width="1.1" />
<text x="571.00" y="513.20" font-size="8.0" >p&lt;0.0001</text>
<line x1="584.20" y1="515.00" x2="594.60" y2="515.00" stroke="#666" stroke-width="1.1" />
<rect x="616.40" y="534.30" width="9.20" height="8.80" fill="#000" />
<text x="630.30" y="542.20" font-size="11.6" >EV</text>
<rect x="616.40" y="548.00" width="9.20" height="8.80" fill="#a00000" />
<text x="630.30" y="557.00" font-size="11.6" font-style="italic" >TXNIP<tspan font-size="9" dy="-5.3" dx="-1.2">#</tspan></text>
</svg>
</body></html>
